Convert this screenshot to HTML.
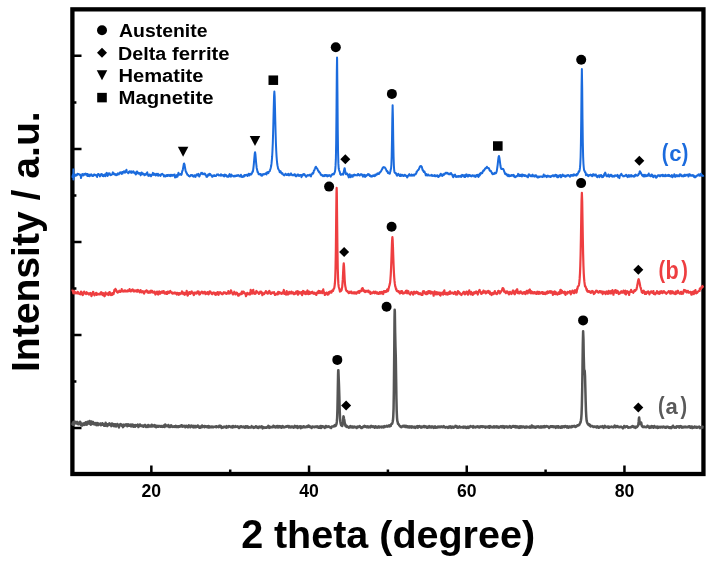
<!DOCTYPE html>
<html><head><meta charset="utf-8"><style>
html,body{margin:0;padding:0;background:#fff;width:712px;height:563px;overflow:hidden}
svg{display:block;will-change:transform}
text{font-family:"Liberation Sans", sans-serif;font-weight:bold}
</style></head><body>
<svg width="712" height="563" viewBox="0 0 712 563">
<rect width="712" height="563" fill="#fff"/>
<rect x="72.4" y="9.35" width="631.05" height="464.65" fill="none" stroke="#000" stroke-width="4.3"/>
<g fill="none" stroke-linejoin="round">
<path stroke="#555555" stroke-width="2.5" d="M73.40 421.50L73.40 425.00L73.60 423.00L72.50 424.29L72.82 422.99L73.13 422.36L73.45 423.37L73.76 423.53L74.08 422.35L74.39 421.55L74.71 421.60L75.02 423.22L75.34 421.92L75.65 422.55L75.97 422.97L76.28 423.43L76.60 422.53L76.92 423.12L77.23 421.87L77.55 422.57L77.86 422.29L78.18 424.33L78.49 423.70L78.81 423.44L79.12 424.07L79.44 423.77L79.75 424.11L80.07 421.84L80.38 422.28L80.70 422.81L81.02 425.16L81.33 424.16L81.65 423.57L81.96 424.51L82.28 425.58L82.59 423.73L82.91 423.61L83.22 424.84L83.54 424.22L83.85 424.33L84.17 423.17L84.49 424.89L84.80 424.51L85.12 423.82L85.43 424.14L85.75 422.21L86.06 424.51L86.38 424.03L86.69 424.71L87.01 424.47L87.32 423.22L87.64 421.72L87.95 423.56L88.27 422.91L88.59 423.45L88.90 422.92L89.22 422.82L89.53 420.98L89.85 423.88L90.16 423.28L90.48 424.10L90.79 424.66L91.11 423.04L91.42 421.52L91.74 422.59L92.05 422.72L92.37 423.63L92.69 423.87L93.00 422.06L93.32 423.64L93.63 422.58L93.95 424.31L94.26 424.35L94.58 424.18L94.89 424.35L95.21 423.98L95.52 423.87L95.84 423.00L96.15 424.19L96.47 425.12L96.79 424.73L97.10 423.74L97.42 423.72L97.73 423.12L98.05 425.15L98.36 424.14L98.68 424.25L98.99 424.20L99.31 424.54L99.62 424.19L99.94 424.50L100.26 423.43L100.57 423.62L100.89 425.25L101.20 423.75L101.52 423.86L101.83 424.66L102.15 424.70L102.46 423.27L102.78 423.85L103.09 424.72L103.41 424.29L103.72 424.24L104.04 425.68L104.36 424.46L104.67 425.41L104.99 424.60L105.30 425.68L105.62 422.82L105.93 423.92L106.25 424.20L106.56 425.23L106.88 425.39L107.19 426.15L107.51 424.23L107.82 425.60L108.14 424.57L108.46 424.02L108.77 424.99L109.09 424.06L109.40 423.35L109.72 424.62L110.03 423.88L110.35 424.54L110.66 425.26L110.98 425.23L111.29 426.13L111.61 424.63L111.92 423.45L112.24 423.75L112.56 423.90L112.87 423.96L113.19 425.38L113.50 424.89L113.82 424.23L114.13 426.34L114.45 425.22L114.76 424.98L115.08 424.24L115.39 425.08L115.71 425.15L116.03 426.45L116.34 425.76L116.66 425.60L116.97 425.48L117.29 424.07L117.60 424.81L117.92 424.60L118.23 425.44L118.55 424.90L118.86 427.43L119.18 426.17L119.49 425.05L119.81 424.49L120.13 425.08L120.44 424.84L120.76 424.06L121.07 424.85L121.39 424.61L121.70 425.66L122.02 424.91L122.33 425.47L122.65 426.24L122.96 427.15L123.28 424.66L123.59 424.88L123.91 424.81L124.23 426.04L124.54 424.95L124.86 425.25L125.17 425.42L125.49 424.67L125.80 424.83L126.12 425.29L126.43 424.38L126.75 424.95L127.06 425.77L127.38 426.28L127.69 425.68L128.01 424.29L128.33 424.75L128.64 425.72L128.96 425.74L129.27 425.50L129.59 424.88L129.90 425.72L130.22 424.85L130.53 424.59L130.85 424.94L131.16 426.46L131.48 425.47L131.80 425.83L132.11 424.58L132.43 425.58L132.74 424.74L133.06 425.13L133.37 426.84L133.69 425.85L134.00 425.15L134.32 425.60L134.63 426.06L134.95 426.80L135.26 425.81L135.58 425.09L135.90 426.03L136.21 425.79L136.53 425.43L136.84 425.74L137.16 425.24L137.47 425.64L137.79 424.58L138.10 426.02L138.42 427.01L138.73 426.47L139.05 425.72L139.36 425.22L139.68 425.75L140.00 424.41L140.31 425.16L140.63 425.76L140.94 426.00L141.26 425.38L141.57 425.88L141.89 425.77L142.20 426.24L142.52 426.33L142.83 425.65L143.15 426.22L143.46 426.65L143.78 425.42L144.10 425.68L144.41 426.04L144.73 425.05L145.04 425.77L145.36 425.06L145.67 426.34L145.99 427.04L146.30 426.90L146.62 425.92L146.93 426.76L147.25 426.70L147.57 426.38L147.88 426.89L148.20 424.97L148.51 426.33L148.83 425.74L149.14 426.58L149.46 426.01L149.77 425.65L150.09 426.29L150.40 426.47L150.72 426.02L151.03 426.20L151.35 425.64L151.67 424.75L151.98 426.41L152.30 426.16L152.61 425.72L152.93 425.54L153.24 426.24L153.56 425.61L153.87 425.65L154.19 425.87L154.50 426.55L154.82 425.10L155.13 426.74L155.45 426.01L155.77 426.01L156.08 427.19L156.40 426.40L156.71 425.69L157.03 426.09L157.34 426.67L157.66 426.71L157.97 425.97L158.29 426.51L158.60 426.78L158.92 425.93L159.23 426.30L159.55 425.96L159.87 425.91L160.18 426.14L160.50 426.64L160.81 426.47L161.13 426.01L161.44 425.93L161.76 426.81L162.07 426.44L162.39 426.87L162.70 426.76L163.02 426.19L163.34 426.77L163.65 425.45L163.97 426.51L164.28 426.19L164.60 426.99L164.91 426.62L165.23 424.52L165.54 424.97L165.86 425.73L166.17 425.75L166.49 425.98L166.80 425.83L167.12 426.33L167.44 426.35L167.75 425.92L168.07 426.38L168.38 424.93L168.70 426.49L169.01 425.83L169.33 427.10L169.64 426.81L169.96 426.78L170.27 426.97L170.59 425.93L170.90 425.51L171.22 425.23L171.54 426.01L171.85 426.29L172.17 426.66L172.48 426.22L172.80 426.91L173.11 426.46L173.43 426.45L173.74 426.82L174.06 426.96L174.37 426.20L174.69 426.17L175.00 426.21L175.32 426.32L175.64 425.86L175.95 426.90L176.27 426.35L176.58 426.89L176.90 426.26L177.21 426.80L177.53 426.79L177.84 426.20L178.16 427.15L178.47 426.17L178.79 426.96L179.11 426.71L179.42 426.08L179.74 426.23L180.05 426.64L180.37 426.48L180.68 426.34L181.00 426.04L181.31 425.19L181.63 426.11L181.94 425.36L182.26 426.75L182.57 426.09L182.89 425.95L183.21 426.04L183.52 426.52L183.84 425.97L184.15 426.08L184.47 426.29L184.78 425.75L185.10 426.14L185.41 427.31L185.73 426.09L186.04 426.86L186.36 425.85L186.67 426.53L186.99 426.16L187.31 426.35L187.62 426.70L187.94 427.31L188.25 426.36L188.57 426.09L188.88 425.35L189.20 426.17L189.51 425.92L189.83 426.52L190.14 426.32L190.46 427.33L190.77 425.85L191.09 426.29L191.41 426.50L191.72 425.63L192.04 425.82L192.35 426.44L192.67 426.32L192.98 426.67L193.30 427.38L193.61 426.47L193.93 425.79L194.24 426.22L194.56 426.75L194.88 427.17L195.19 426.16L195.51 426.02L195.82 426.93L196.14 427.12L196.45 426.79L196.77 426.38L197.08 426.11L197.40 426.41L197.71 425.53L198.03 426.63L198.34 425.82L198.66 426.66L198.98 427.62L199.29 427.66L199.61 426.68L199.92 427.58L200.24 427.73L200.55 426.72L200.87 426.45L201.18 426.63L201.50 425.96L201.81 427.27L202.13 425.57L202.44 426.15L202.76 426.53L203.08 426.57L203.39 426.64L203.71 426.59L204.02 426.28L204.34 427.12L204.65 425.97L204.97 427.14L205.28 426.64L205.60 426.81L205.91 426.65L206.23 426.23L206.54 426.41L206.86 427.08L207.18 426.80L207.49 426.28L207.81 427.34L208.12 427.48L208.44 425.92L208.75 426.68L209.07 427.53L209.38 426.73L209.70 426.42L210.01 426.55L210.33 426.72L210.65 427.16L210.96 426.85L211.28 427.23L211.59 426.59L211.91 426.71L212.22 426.53L212.54 427.14L212.85 426.68L213.17 426.87L213.48 427.26L213.80 426.90L214.11 426.88L214.43 426.74L214.75 426.66L215.06 426.63L215.38 426.61L215.69 427.02L216.01 426.24L216.32 427.21L216.64 426.74L216.95 426.50L217.27 426.67L217.58 426.55L217.90 426.85L218.21 426.46L218.53 427.22L218.85 426.45L219.16 425.87L219.48 426.37L219.79 425.73L220.11 426.40L220.42 426.91L220.74 426.82L221.05 426.09L221.37 426.61L221.68 427.91L222.00 427.61L222.31 427.22L222.63 427.38L222.95 427.67L223.26 427.17L223.58 426.67L223.89 426.72L224.21 426.98L224.52 426.66L224.84 426.64L225.15 427.20L225.47 426.93L225.78 427.40L226.10 427.15L226.42 427.71L226.73 426.14L227.05 426.57L227.36 426.70L227.68 427.07L227.99 427.27L228.31 426.62L228.62 426.45L228.94 426.02L229.25 426.17L229.57 426.62L229.88 426.70L230.20 426.57L230.52 427.10L230.83 427.17L231.15 427.27L231.46 426.76L231.78 426.90L232.09 426.31L232.41 426.58L232.72 427.55L233.04 426.00L233.35 426.62L233.67 426.97L233.98 426.87L234.30 426.84L234.62 427.01L234.93 426.93L235.25 426.79L235.56 426.14L235.88 426.85L236.19 426.62L236.51 426.63L236.82 426.83L237.14 426.88L237.45 426.96L237.77 426.42L238.08 426.95L238.40 427.33L238.72 427.59L239.03 427.97L239.35 427.18L239.66 426.97L239.98 427.15L240.29 426.39L240.61 427.09L240.92 426.89L241.24 426.92L241.55 426.35L241.87 426.64L242.19 426.93L242.50 427.24L242.82 427.23L243.13 426.81L243.45 426.76L243.76 426.51L244.08 427.11L244.39 426.98L244.71 427.44L245.02 427.77L245.34 426.99L245.65 426.32L245.97 426.58L246.29 426.37L246.60 426.49L246.92 427.47L247.23 427.07L247.55 426.42L247.86 427.38L248.18 427.74L248.49 427.25L248.81 427.07L249.12 427.15L249.44 427.33L249.75 427.43L250.07 427.61L250.39 427.59L250.70 427.47L251.02 427.44L251.33 427.06L251.65 426.13L251.96 426.58L252.28 426.66L252.59 426.65L252.91 427.40L253.22 427.17L253.54 426.96L253.85 427.87L254.17 427.57L254.49 427.28L254.80 427.43L255.12 427.36L255.43 427.16L255.75 426.16L256.06 426.92L256.38 427.03L256.69 426.85L257.01 427.33L257.32 427.71L257.64 427.08L257.96 426.83L258.27 428.05L258.59 427.12L258.90 426.83L259.22 427.24L259.53 427.16L259.85 426.58L260.16 427.36L260.48 427.09L260.79 427.14L261.11 427.26L261.42 427.18L261.74 426.34L262.06 426.94L262.37 427.01L262.69 428.36L263.00 426.97L263.32 427.73L263.63 427.14L263.95 427.15L264.26 427.52L264.58 427.62L264.89 427.88L265.21 427.63L265.52 427.38L265.84 427.36L266.16 427.72L266.47 427.70L266.79 427.73L267.10 427.07L267.42 427.02L267.73 427.14L268.05 426.56L268.36 425.87L268.68 426.26L268.99 426.44L269.31 427.87L269.62 426.74L269.94 427.33L270.26 426.89L270.57 427.43L270.89 427.26L271.20 426.95L271.52 427.01L271.83 427.21L272.15 427.34L272.46 426.80L272.78 426.71L273.09 427.07L273.41 425.76L273.73 426.45L274.04 425.96L274.36 426.63L274.67 427.14L274.99 427.06L275.30 427.35L275.62 426.43L275.93 427.43L276.25 426.75L276.56 427.18L276.88 426.98L277.19 425.96L277.51 426.69L277.83 427.09L278.14 427.50L278.46 426.92L278.77 426.81L279.09 426.10L279.40 427.12L279.72 427.19L280.03 426.66L280.35 426.71L280.66 426.32L280.98 427.19L281.29 427.79L281.61 426.95L281.93 427.08L282.24 426.74L282.56 426.08L282.87 427.20L283.19 426.45L283.50 427.08L283.82 427.20L284.13 427.37L284.45 427.13L284.76 427.17L285.08 426.78L285.39 426.63L285.71 427.00L286.03 426.55L286.34 426.17L286.66 426.22L286.97 426.55L287.29 426.07L287.60 426.23L287.92 426.08L288.23 426.73L288.55 426.83L288.86 427.45L289.18 426.13L289.50 426.56L289.81 427.28L290.13 426.97L290.44 426.82L290.76 427.49L291.07 426.61L291.39 426.42L291.70 426.48L292.02 427.23L292.33 427.22L292.65 426.58L292.96 426.73L293.28 427.49L293.60 427.69L293.91 427.40L294.23 427.51L294.54 427.12L294.86 425.86L295.17 426.66L295.49 427.19L295.80 427.06L296.12 426.36L296.43 426.96L296.75 427.24L297.06 427.57L297.38 426.14L297.70 427.98L298.01 426.40L298.33 427.03L298.64 426.98L298.96 427.00L299.27 426.79L299.59 426.40L299.90 427.21L300.22 426.83L300.53 426.27L300.85 428.21L301.16 427.32L301.48 427.65L301.80 426.63L302.11 427.55L302.43 427.61L302.74 427.56L303.06 426.92L303.37 426.43L303.69 426.98L304.00 426.37L304.32 426.71L304.63 427.27L304.95 426.73L305.27 426.91L305.58 426.70L305.90 427.23L306.21 426.76L306.53 426.41L306.84 427.05L307.16 426.46L307.47 426.49L307.79 426.82L308.10 425.87L308.42 426.10L308.73 425.56L309.05 425.97L309.37 426.84L309.68 426.23L310.00 426.89L310.31 426.67L310.63 426.77L310.94 426.94L311.26 427.82L311.57 428.02L311.89 427.17L312.20 426.59L312.52 426.99L312.83 426.47L313.15 426.92L313.47 426.75L313.78 426.77L314.10 427.12L314.41 426.89L314.73 427.18L315.04 426.58L315.36 426.96L315.67 426.48L315.99 426.95L316.30 426.63L316.62 427.02L316.93 427.14L317.25 426.42L317.57 426.64L317.88 426.60L318.20 427.24L318.51 427.62L318.83 427.37L319.14 427.00L319.46 427.77L319.77 426.62L320.09 427.72L320.40 426.88L320.72 426.04L321.04 428.05L321.35 427.61L321.67 426.49L321.98 426.80L322.30 426.52L322.61 426.81L322.93 426.37L323.24 426.84L323.56 427.14L323.87 426.92L324.19 427.15L324.50 426.92L324.82 427.96L325.14 427.00L325.45 427.11L325.77 426.03L326.08 426.02L326.40 427.11L326.71 426.37L327.03 427.04L327.34 426.83L327.66 426.47L327.97 426.73L328.29 426.52L328.60 426.38L328.92 426.70L329.24 426.98L329.55 426.83L329.87 427.02L330.18 427.42L330.50 427.23L330.81 427.61L331.13 427.98L331.44 427.08L331.76 426.53L332.07 426.58L332.39 426.42L332.70 426.49L333.02 426.37L333.34 426.50L333.65 426.38L333.97 426.41L334.28 425.59L334.60 425.24L334.91 425.02L335.23 426.10L335.54 425.70L335.86 425.71L336.17 424.79L336.49 424.08L336.81 421.92L337.12 418.18L337.44 409.26L337.75 393.04L338.07 375.08L338.22 370.25L338.38 370.27L338.70 378.33L339.01 386.07L339.33 396.09L339.64 408.18L339.96 416.65L340.27 421.14L340.59 423.27L340.91 424.47L341.22 425.20L341.54 425.53L341.85 424.96L342.17 425.99L342.48 425.18L342.80 423.41L343.11 419.85L343.43 416.56L343.51 416.32L343.74 417.15L344.06 418.96L344.37 420.35L344.69 422.74L345.01 423.45L345.32 425.69L345.64 426.06L345.95 426.14L346.27 426.68L346.58 425.67L346.90 426.09L347.21 426.98L347.53 426.75L347.84 427.06L348.16 427.22L348.47 426.97L348.79 427.68L349.11 426.76L349.42 427.44L349.74 426.64L350.05 427.36L350.37 427.05L350.68 426.08L351.00 427.02L351.31 426.56L351.63 426.74L351.94 427.52L352.26 426.52L352.58 426.55L352.89 427.47L353.21 426.91L353.52 427.42L353.84 426.96L354.15 426.50L354.47 426.82L354.78 427.35L355.10 427.27L355.41 426.94L355.73 427.11L356.04 427.21L356.36 427.19L356.68 428.05L356.99 427.21L357.31 426.67L357.62 426.86L357.94 427.26L358.25 427.16L358.57 426.81L358.88 426.55L359.20 426.76L359.51 426.10L359.83 426.24L360.14 427.04L360.46 426.79L360.78 427.36L361.09 427.92L361.41 427.59L361.72 427.23L362.04 427.92L362.35 427.32L362.67 426.88L362.98 427.25L363.30 427.08L363.61 426.55L363.93 426.86L364.24 426.69L364.56 425.92L364.88 426.52L365.19 426.59L365.51 426.64L365.82 426.29L366.14 426.89L366.45 427.11L366.77 427.26L367.08 426.65L367.40 427.20L367.71 426.35L368.03 426.75L368.35 427.35L368.66 426.60L368.98 426.67L369.29 427.28L369.61 426.72L369.92 426.79L370.24 427.02L370.55 427.37L370.87 425.94L371.18 426.29L371.50 426.04L371.81 426.15L372.13 426.38L372.45 426.53L372.76 426.90L373.08 426.38L373.39 426.70L373.71 426.99L374.02 426.74L374.34 427.25L374.65 427.65L374.97 426.97L375.28 426.43L375.60 426.79L375.91 426.60L376.23 427.19L376.55 427.52L376.86 426.98L377.18 427.31L377.49 427.61L377.81 426.80L378.12 426.86L378.44 426.37L378.75 426.41L379.07 426.49L379.38 427.57L379.70 426.69L380.01 426.73L380.33 426.69L380.65 426.81L380.96 427.09L381.28 426.81L381.59 427.38L381.91 426.59L382.22 427.19L382.54 426.90L382.85 427.17L383.17 426.57L383.48 427.20L383.80 427.38L384.12 427.06L384.43 426.11L384.75 426.97L385.06 426.49L385.38 426.46L385.69 426.51L386.01 426.41L386.32 426.53L386.64 425.80L386.95 426.04L387.27 426.58L387.58 426.63L387.90 426.23L388.22 425.95L388.53 425.64L388.85 425.86L389.16 426.23L389.48 425.36L389.79 426.39L390.11 426.24L390.42 425.86L390.74 425.85L391.05 424.64L391.37 424.04L391.68 423.95L392.00 423.82L392.32 423.21L392.63 422.03L392.95 420.34L393.26 416.48L393.58 408.35L393.89 389.26L394.21 355.72L394.52 318.75L394.68 309.85L394.84 311.94L395.15 332.62L395.47 346.70L395.78 356.43L396.10 377.06L396.42 398.17L396.73 411.64L397.05 418.05L397.36 421.17L397.68 421.99L397.99 423.78L398.31 423.86L398.62 424.17L398.94 424.81L399.25 425.45L399.57 425.58L399.89 426.14L400.20 426.11L400.52 426.76L400.83 427.02L401.15 426.59L401.46 427.16L401.78 426.72L402.09 426.55L402.41 426.04L402.72 426.12L403.04 426.55L403.35 425.83L403.67 426.58L403.99 426.54L404.30 426.57L404.62 425.72L404.93 426.59L405.25 426.97L405.56 426.55L405.88 426.83L406.19 425.88L406.51 426.96L406.82 426.53L407.14 427.14L407.45 426.20L407.77 427.15L408.09 426.83L408.40 427.23L408.72 426.53L409.03 426.59L409.35 427.59L409.66 426.49L409.98 426.57L410.29 426.76L410.61 426.51L410.92 427.36L411.24 427.59L411.55 426.67L411.87 426.26L412.19 427.31L412.50 427.35L412.82 427.31L413.13 427.50L413.45 426.90L413.76 427.30L414.08 427.00L414.39 426.85L414.71 427.61L415.02 426.86L415.34 427.90L415.66 427.03L415.97 426.71L416.29 427.06L416.60 427.25L416.92 426.58L417.23 426.17L417.55 426.98L417.86 427.57L418.18 426.64L418.49 426.29L418.81 426.70L419.12 426.44L419.44 426.04L419.76 426.36L420.07 426.46L420.39 427.09L420.70 427.26L421.02 427.63L421.33 427.46L421.65 426.60L421.96 427.24L422.28 427.33L422.59 427.08L422.91 427.13L423.22 426.38L423.54 426.07L423.86 426.91L424.17 426.31L424.49 426.05L424.80 427.19L425.12 426.51L425.43 426.64L425.75 426.37L426.06 426.54L426.38 426.74L426.69 427.21L427.01 427.65L427.32 426.84L427.64 427.75L427.96 426.82L428.27 426.65L428.59 427.19L428.90 426.80L429.22 426.16L429.53 427.37L429.85 426.33L430.16 426.69L430.48 426.79L430.79 427.36L431.11 426.79L431.43 427.32L431.74 426.66L432.06 427.33L432.37 426.54L432.69 426.58L433.00 427.31L433.32 426.86L433.63 426.92L433.95 427.84L434.26 427.01L434.58 426.45L434.89 426.89L435.21 426.42L435.53 427.51L435.84 427.78L436.16 427.11L436.47 427.09L436.79 427.38L437.10 427.32L437.42 426.96L437.73 427.53L438.05 426.41L438.36 426.84L438.68 426.68L438.99 426.84L439.31 427.15L439.63 426.69L439.94 427.29L440.26 426.94L440.57 426.70L440.89 426.41L441.20 426.45L441.52 426.99L441.83 426.51L442.15 426.89L442.46 427.27L442.78 427.16L443.09 427.25L443.41 426.46L443.73 426.16L444.04 426.92L444.36 426.64L444.67 427.18L444.99 427.00L445.30 427.68L445.62 427.44L445.93 427.29L446.25 427.11L446.56 427.11L446.88 427.10L447.20 427.14L447.51 427.50L447.83 427.03L448.14 427.94L448.46 426.98L448.77 427.09L449.09 426.41L449.40 426.45L449.72 427.39L450.03 426.63L450.35 426.37L450.66 426.68L450.98 426.93L451.30 427.86L451.61 427.16L451.93 427.46L452.24 426.66L452.56 427.08L452.87 427.12L453.19 427.68L453.50 426.91L453.82 427.54L454.13 427.34L454.45 426.76L454.76 427.05L455.08 426.81L455.40 425.90L455.71 426.83L456.03 426.83L456.34 426.50L456.66 426.20L456.97 427.42L457.29 427.16L457.60 427.62L457.92 427.73L458.23 426.98L458.55 427.43L458.86 426.80L459.18 426.62L459.50 426.36L459.81 426.73L460.13 427.48L460.44 427.46L460.76 427.28L461.07 427.16L461.39 427.30L461.70 426.93L462.02 427.15L462.33 427.39L462.65 427.02L462.97 427.01L463.28 426.64L463.60 427.61L463.91 427.38L464.23 427.06L464.54 426.79L464.86 427.53L465.17 426.75L465.49 426.99L465.80 427.52L466.12 427.90L466.43 428.02L466.75 427.21L467.07 427.71L467.38 426.80L467.70 427.56L468.01 427.12L468.33 427.92L468.64 426.90L468.96 426.77L469.27 427.21L469.59 427.42L469.90 426.63L470.22 426.72L470.53 426.15L470.85 426.52L471.17 426.56L471.48 426.61L471.80 426.62L472.11 426.87L472.43 426.88L472.74 427.49L473.06 427.62L473.37 426.12L473.69 426.55L474.00 426.69L474.32 427.27L474.63 426.98L474.95 427.20L475.27 426.79L475.58 427.35L475.90 426.99L476.21 426.75L476.53 426.80L476.84 426.63L477.16 426.21L477.47 427.05L477.79 426.94L478.10 426.79L478.42 427.21L478.74 427.34L479.05 426.53L479.37 426.69L479.68 427.49L480.00 427.39L480.31 426.55L480.63 426.36L480.94 426.53L481.26 426.55L481.57 426.21L481.89 426.85L482.20 426.43L482.52 426.38L482.84 427.08L483.15 426.42L483.47 426.62L483.78 426.84L484.10 426.88L484.41 426.59L484.73 426.86L485.04 426.67L485.36 427.71L485.67 427.41L485.99 426.86L486.30 427.02L486.62 427.02L486.94 426.69L487.25 427.34L487.57 427.33L487.88 426.80L488.20 426.89L488.51 426.39L488.83 426.88L489.14 426.81L489.46 427.71L489.77 426.72L490.09 426.11L490.40 426.82L490.72 427.30L491.04 426.66L491.35 426.66L491.67 426.70L491.98 427.16L492.30 427.19L492.61 427.14L492.93 427.51L493.24 426.79L493.56 426.56L493.87 426.36L494.19 426.70L494.51 427.35L494.82 426.46L495.14 426.96L495.45 427.18L495.77 426.73L496.08 426.90L496.40 426.35L496.71 427.37L497.03 427.44L497.34 427.26L497.66 426.46L497.97 426.64L498.29 427.30L498.61 427.65L498.92 427.21L499.24 427.63L499.55 426.89L499.87 426.97L500.18 426.98L500.50 427.02L500.81 426.20L501.13 426.99L501.44 427.24L501.76 426.44L502.07 426.46L502.39 427.10L502.71 426.75L503.02 426.14L503.34 427.40L503.65 427.25L503.97 427.12L504.28 427.87L504.60 426.95L504.91 426.43L505.23 426.83L505.54 426.51L505.86 426.70L506.17 426.94L506.49 426.43L506.81 426.29L507.12 427.31L507.44 427.26L507.75 427.49L508.07 427.21L508.38 427.01L508.70 427.18L509.01 426.57L509.33 427.18L509.64 426.08L509.96 426.51L510.28 426.29L510.59 426.85L510.91 427.28L511.22 427.74L511.54 427.09L511.85 427.06L512.17 426.66L512.48 426.24L512.80 426.13L513.11 426.63L513.43 426.02L513.74 426.73L514.06 426.73L514.38 426.52L514.69 426.35L515.01 426.17L515.32 427.32L515.64 426.31L515.95 427.52L516.27 427.32L516.58 426.85L516.90 426.44L517.21 427.12L517.53 427.37L517.84 426.41L518.16 426.65L518.48 427.28L518.79 427.16L519.11 427.90L519.42 426.82L519.74 427.09L520.05 426.30L520.37 427.64L520.68 426.73L521.00 426.32L521.31 426.93L521.63 426.78L521.94 427.38L522.26 426.54L522.58 426.63L522.89 426.82L523.21 427.12L523.52 426.46L523.84 426.79L524.15 426.99L524.47 427.07L524.78 427.59L525.10 427.35L525.41 426.78L525.73 427.33L526.05 426.44L526.36 427.43L526.68 427.41L526.99 427.00L527.31 426.73L527.62 426.89L527.94 427.17L528.25 427.28L528.57 427.14L528.88 427.38L529.20 426.81L529.51 427.08L529.83 426.62L530.15 427.66L530.46 427.63L530.78 427.12L531.09 427.39L531.41 426.91L531.72 425.59L532.04 426.57L532.35 425.97L532.67 426.94L532.98 427.51L533.30 426.48L533.61 426.66L533.93 426.51L534.25 426.69L534.56 427.01L534.88 427.46L535.19 426.85L535.51 427.79L535.82 426.89L536.14 427.33L536.45 427.47L536.77 427.12L537.08 426.34L537.40 426.38L537.71 426.42L538.03 426.53L538.35 427.07L538.66 426.29L538.98 427.04L539.29 427.27L539.61 427.43L539.92 427.58L540.24 427.52L540.55 426.71L540.87 426.41L541.18 426.65L541.50 427.44L541.82 426.45L542.13 427.43L542.45 426.71L542.76 426.54L543.08 426.51L543.39 426.40L543.71 427.16L544.02 426.83L544.34 427.03L544.65 426.11L544.97 427.23L545.28 426.90L545.60 426.79L545.92 426.50L546.23 426.34L546.55 426.09L546.86 426.36L547.18 426.61L547.49 426.60L547.81 426.40L548.12 427.05L548.44 427.07L548.75 427.39L549.07 427.95L549.38 427.44L549.70 426.98L550.02 426.38L550.33 426.33L550.65 426.18L550.96 427.00L551.28 426.41L551.59 426.61L551.91 426.25L552.22 426.40L552.54 427.03L552.85 426.43L553.17 426.71L553.48 426.58L553.80 427.22L554.12 426.57L554.43 426.53L554.75 426.43L555.06 426.41L555.38 427.09L555.69 427.84L556.01 426.56L556.32 427.15L556.64 426.79L556.95 426.20L557.27 426.60L557.59 426.72L557.90 426.67L558.22 427.61L558.53 426.23L558.85 427.05L559.16 427.17L559.48 426.98L559.79 427.37L560.11 427.69L560.42 427.49L560.74 427.64L561.05 427.53L561.37 426.35L561.69 427.40L562.00 427.62L562.32 427.09L562.63 427.03L562.95 426.23L563.26 426.76L563.58 426.58L563.89 426.60L564.21 427.10L564.52 426.41L564.84 426.63L565.15 425.98L565.47 426.59L565.79 426.74L566.10 426.52L566.42 426.58L566.73 427.40L567.05 426.20L567.36 426.15L567.68 426.39L567.99 427.27L568.31 427.75L568.62 427.04L568.94 426.59L569.25 426.61L569.57 427.17L569.89 426.49L570.20 427.35L570.52 427.29L570.83 426.75L571.15 426.90L571.46 426.87L571.78 427.08L572.09 426.09L572.41 426.84L572.72 426.25L573.04 426.07L573.36 426.42L573.67 426.36L573.99 426.13L574.30 425.86L574.62 426.02L574.93 426.78L575.25 426.99L575.56 426.56L575.88 426.77L576.19 426.10L576.51 426.16L576.82 426.18L577.14 425.50L577.46 425.29L577.77 425.41L578.09 425.26L578.40 424.98L578.72 425.37L579.03 424.78L579.35 424.73L579.66 423.91L579.98 423.39L580.29 422.92L580.61 421.99L580.92 420.55L581.24 418.29L581.56 413.86L581.87 405.03L582.19 389.79L582.50 367.59L582.82 343.86L583.13 331.25L583.13 331.28L583.45 339.11L583.76 356.15L584.08 368.31L584.39 371.44L584.71 370.74L585.02 375.92L585.34 387.99L585.66 400.79L585.97 410.68L586.29 416.68L586.60 420.36L586.92 421.90L587.23 422.80L587.55 423.56L587.86 423.89L588.18 424.51L588.49 424.88L588.81 425.15L589.13 425.22L589.44 424.35L589.76 425.69L590.07 425.12L590.39 426.00L590.70 426.45L591.02 426.30L591.33 426.02L591.65 426.02L591.96 425.96L592.28 426.01L592.59 426.18L592.91 426.24L593.23 427.00L593.54 426.60L593.86 426.96L594.17 426.53L594.49 426.64L594.80 426.55L595.12 426.76L595.43 426.87L595.75 426.66L596.06 426.45L596.38 426.52L596.69 427.50L597.01 426.60L597.33 426.39L597.64 426.79L597.96 426.88L598.27 426.91L598.59 426.80L598.90 427.76L599.22 427.06L599.53 427.09L599.85 426.85L600.16 426.42L600.48 426.46L600.79 427.09L601.11 427.10L601.43 426.89L601.74 426.46L602.06 426.27L602.37 426.56L602.69 426.20L603.00 427.08L603.32 427.22L603.63 427.91L603.95 427.31L604.26 426.88L604.58 426.76L604.90 425.83L605.21 426.83L605.53 426.95L605.84 427.34L606.16 427.19L606.47 427.01L606.79 426.71L607.10 426.69L607.42 427.18L607.73 426.50L608.05 426.93L608.36 426.66L608.68 427.80L609.00 427.75L609.31 427.54L609.63 426.83L609.94 427.30L610.26 427.08L610.57 427.12L610.89 426.94L611.20 427.01L611.52 426.51L611.83 426.77L612.15 426.81L612.46 426.87L612.78 427.19L613.10 426.97L613.41 427.30L613.73 426.81L614.04 426.77L614.36 426.28L614.67 425.65L614.99 426.80L615.30 426.40L615.62 427.31L615.93 427.03L616.25 426.10L616.56 426.17L616.88 426.34L617.20 426.25L617.51 426.14L617.83 426.89L618.14 426.61L618.46 426.90L618.77 426.81L619.09 427.26L619.40 427.08L619.72 427.17L620.03 427.22L620.35 426.87L620.67 426.75L620.98 426.60L621.30 427.11L621.61 427.32L621.93 427.26L622.24 427.22L622.56 427.67L622.87 428.35L623.19 427.34L623.50 427.40L623.82 427.24L624.13 426.02L624.45 426.96L624.77 426.66L625.08 427.38L625.40 426.70L625.71 426.41L626.03 426.50L626.34 426.70L626.66 426.50L626.97 426.74L627.29 426.39L627.60 426.90L627.92 427.37L628.23 427.79L628.55 427.34L628.87 427.18L629.18 427.47L629.50 427.39L629.81 427.58L630.13 427.47L630.44 427.13L630.76 427.35L631.07 427.14L631.39 427.01L631.70 426.79L632.02 426.51L632.33 426.11L632.65 426.69L632.97 426.29L633.28 427.10L633.60 427.16L633.91 426.54L634.23 427.36L634.54 427.40L634.86 427.16L635.17 427.75L635.49 427.86L635.80 426.69L636.12 427.38L636.44 427.07L636.75 426.94L637.07 426.98L637.38 426.24L637.70 426.16L638.01 425.71L638.33 424.56L638.64 421.90L638.96 418.20L639.12 417.57L639.27 418.41L639.59 421.53L639.90 424.09L640.22 424.03L640.54 423.82L640.85 422.52L641.17 422.48L641.48 423.92L641.80 425.88L642.11 426.26L642.43 426.61L642.74 426.77L643.06 427.11L643.37 426.54L643.69 426.93L644.00 426.52L644.32 426.57L644.64 426.67L644.95 426.99L645.27 427.15L645.58 427.11L645.90 426.89L646.21 427.04L646.53 426.75L646.84 427.13L647.16 426.54L647.47 425.68L647.79 426.75L648.10 426.51L648.42 426.26L648.74 426.80L649.05 426.68L649.37 427.86L649.68 427.42L650.00 426.64L650.31 427.33L650.63 426.95L650.94 427.67L651.26 426.52L651.57 426.00L651.89 426.88L652.21 426.79L652.52 426.83L652.84 426.30L653.15 427.28L653.47 427.80L653.78 426.18L654.10 426.92L654.41 425.95L654.73 427.24L655.04 426.83L655.36 426.88L655.67 427.40L655.99 427.27L656.31 426.94L656.62 427.41L656.94 427.00L657.25 426.56L657.57 428.01L657.88 427.27L658.20 427.29L658.51 427.56L658.83 426.84L659.14 426.85L659.46 427.07L659.77 426.98L660.09 427.11L660.41 427.48L660.72 426.91L661.04 427.25L661.35 427.34L661.67 426.80L661.98 427.31L662.30 426.76L662.61 427.34L662.93 426.99L663.24 426.88L663.56 426.45L663.87 427.02L664.19 426.80L664.51 427.42L664.82 427.22L665.14 427.08L665.45 427.80L665.77 427.84L666.08 427.16L666.40 427.57L666.71 426.84L667.03 426.85L667.34 427.01L667.66 426.71L667.98 426.85L668.29 426.97L668.61 427.59L668.92 427.70L669.24 427.19L669.55 427.96L669.87 427.24L670.18 427.26L670.50 427.29L670.81 427.24L671.13 428.14L671.44 427.52L671.76 426.77L672.08 427.41L672.39 426.56L672.71 426.67L673.02 425.80L673.34 427.29L673.65 427.22L673.97 427.22L674.28 427.28L674.60 427.63L674.91 427.12L675.23 427.56L675.54 426.99L675.86 427.16L676.18 427.68L676.49 427.19L676.81 426.33L677.12 426.67L677.44 426.53L677.75 426.37L678.07 426.87L678.38 426.70L678.70 426.42L679.01 426.70L679.33 427.62L679.64 426.36L679.96 426.87L680.28 426.92L680.59 426.85L680.91 426.10L681.22 426.68L681.54 427.10L681.85 427.59L682.17 427.03L682.48 426.79L682.80 427.50L683.11 427.53L683.43 427.27L683.75 426.93L684.06 427.19L684.38 426.99L684.69 427.15L685.01 426.56L685.32 427.19L685.64 427.25L685.95 426.79L686.27 427.13L686.58 426.93L686.90 426.91L687.21 427.33L687.53 426.83L687.85 427.10L688.16 427.07L688.48 426.82L688.79 427.10L689.11 426.31L689.42 426.21L689.74 426.93L690.05 427.11L690.37 427.80L690.68 427.18L691.00 426.57L691.31 427.07L691.63 426.63L691.95 426.54L692.26 428.11L692.58 427.27L692.89 427.37L693.21 427.27L693.52 427.59L693.84 426.94L694.15 427.15L694.47 426.46L694.78 426.43L695.10 427.52L695.41 427.49L695.73 427.11L696.05 426.97L696.36 427.08L696.68 426.90L696.99 427.81L697.31 427.35L697.62 427.14L697.94 426.94L698.25 427.19L698.57 427.02L698.88 427.13L699.20 426.62L699.52 427.37L699.83 428.13L700.15 427.28L700.46 427.52L700.78 427.98L701.09 427.98L701.41 427.84L701.72 427.03L702.04 427.58L702.35 426.79L702.67 426.73L702.98 427.22L703.30 426.94"/>
<path stroke="#ee3e40" stroke-width="2.2" d="M73.40 288.50L73.40 293.50L73.60 291.50L72.50 290.33L72.82 290.88L73.13 292.14L73.45 289.86L73.76 291.54L74.08 292.10L74.39 292.51L74.71 291.72L75.02 293.27L75.34 293.29L75.65 293.18L75.97 292.74L76.28 292.79L76.60 292.96L76.92 292.76L77.23 293.43L77.55 291.82L77.86 292.37L78.18 292.05L78.49 293.42L78.81 293.67L79.12 293.63L79.44 293.58L79.75 293.89L80.07 294.03L80.38 294.31L80.70 293.38L81.02 291.68L81.33 291.93L81.65 292.40L81.96 292.46L82.28 293.60L82.59 295.05L82.91 294.98L83.22 293.96L83.54 292.74L83.85 293.01L84.17 291.52L84.49 292.41L84.80 293.34L85.12 292.99L85.43 293.31L85.75 292.80L86.06 294.06L86.38 293.41L86.69 292.22L87.01 293.69L87.32 293.74L87.64 293.37L87.95 293.20L88.27 293.72L88.59 294.26L88.90 294.62L89.22 293.91L89.53 294.14L89.85 293.14L90.16 292.99L90.48 293.37L90.79 293.19L91.11 293.97L91.42 296.10L91.74 295.09L92.05 294.44L92.37 293.30L92.69 293.18L93.00 291.90L93.32 291.99L93.63 294.28L93.95 293.71L94.26 294.00L94.58 295.34L94.89 293.98L95.21 294.21L95.52 294.31L95.84 293.54L96.15 292.80L96.47 293.66L96.79 294.96L97.10 294.35L97.42 293.66L97.73 293.70L98.05 293.73L98.36 294.24L98.68 294.33L98.99 294.04L99.31 294.17L99.62 293.58L99.94 294.45L100.26 294.13L100.57 294.09L100.89 292.30L101.20 294.05L101.52 292.27L101.83 292.76L102.15 294.50L102.46 294.40L102.78 295.18L103.09 293.71L103.41 293.17L103.72 294.74L104.04 295.26L104.36 296.26L104.67 296.12L104.99 294.98L105.30 293.26L105.62 292.51L105.93 293.95L106.25 293.69L106.56 293.86L106.88 294.32L107.19 293.72L107.51 293.56L107.82 293.96L108.14 293.16L108.46 295.04L108.77 294.26L109.09 292.69L109.40 292.09L109.72 292.17L110.03 294.39L110.35 294.44L110.66 293.21L110.98 295.11L111.29 295.02L111.61 294.04L111.92 293.53L112.24 294.89L112.56 293.12L112.87 293.05L113.19 292.92L113.50 294.09L113.82 292.90L114.13 291.18L114.45 289.78L114.76 289.85L115.08 290.37L115.39 288.87L115.71 290.38L116.03 289.79L116.34 291.03L116.66 291.83L116.97 291.97L117.29 291.75L117.60 292.63L117.92 291.81L118.23 292.21L118.55 292.16L118.86 291.02L119.18 291.64L119.49 290.73L119.81 291.39L120.13 291.88L120.44 291.94L120.76 291.19L121.07 291.38L121.39 290.77L121.70 289.19L122.02 290.64L122.33 290.92L122.65 291.18L122.96 291.53L123.28 291.29L123.59 290.85L123.91 290.57L124.23 291.46L124.54 291.47L124.86 290.46L125.17 290.29L125.49 291.34L125.80 290.67L126.12 291.44L126.43 291.27L126.75 291.24L127.06 290.80L127.38 291.45L127.69 290.40L128.01 291.25L128.33 290.62L128.64 291.20L128.96 291.13L129.27 290.46L129.59 289.11L129.90 290.90L130.22 290.71L130.53 291.27L130.85 291.45L131.16 290.86L131.48 290.52L131.80 289.88L132.11 290.62L132.43 290.05L132.74 289.48L133.06 290.32L133.37 290.01L133.69 291.39L134.00 291.05L134.32 291.44L134.63 291.50L134.95 290.43L135.26 290.59L135.58 290.75L135.90 290.39L136.21 291.38L136.53 290.44L136.84 291.10L137.16 291.72L137.47 290.09L137.79 289.81L138.10 290.75L138.42 290.17L138.73 291.14L139.05 290.99L139.36 291.68L139.68 292.43L140.00 291.31L140.31 291.44L140.63 290.19L140.94 291.44L141.26 291.83L141.57 291.90L141.89 292.40L142.20 292.18L142.52 291.44L142.83 291.10L143.15 292.19L143.46 291.80L143.78 292.90L144.10 293.69L144.41 292.93L144.73 291.59L145.04 291.29L145.36 291.66L145.67 290.78L145.99 291.40L146.30 290.52L146.62 290.38L146.93 290.57L147.25 291.53L147.57 292.55L147.88 291.65L148.20 291.62L148.51 291.60L148.83 292.79L149.14 291.41L149.46 291.67L149.77 292.35L150.09 292.67L150.40 291.70L150.72 292.38L151.03 290.53L151.35 292.11L151.67 291.91L151.98 291.08L152.30 290.92L152.61 291.95L152.93 292.67L153.24 292.53L153.56 292.18L153.87 292.57L154.19 292.72L154.50 291.65L154.82 292.94L155.13 293.55L155.45 294.55L155.77 293.11L156.08 293.47L156.40 292.15L156.71 292.73L157.03 291.53L157.34 292.83L157.66 294.02L157.97 293.66L158.29 294.50L158.60 292.24L158.92 291.54L159.23 291.46L159.55 292.68L159.87 292.40L160.18 293.65L160.50 293.30L160.81 292.41L161.13 292.12L161.44 291.57L161.76 291.76L162.07 291.44L162.39 292.66L162.70 292.76L163.02 291.48L163.34 291.76L163.65 291.05L163.97 292.27L164.28 293.19L164.60 293.54L164.91 293.38L165.23 293.29L165.54 292.32L165.86 292.32L166.17 293.80L166.49 292.11L166.80 293.13L167.12 293.93L167.44 292.77L167.75 291.57L168.07 291.60L168.38 291.87L168.70 292.83L169.01 293.01L169.33 292.46L169.64 292.28L169.96 291.36L170.27 290.96L170.59 291.48L170.90 292.22L171.22 292.10L171.54 292.91L171.85 293.25L172.17 293.50L172.48 292.52L172.80 293.65L173.11 293.00L173.43 293.43L173.74 292.77L174.06 292.84L174.37 292.81L174.69 293.25L175.00 292.42L175.32 293.10L175.64 293.07L175.95 293.72L176.27 292.96L176.58 293.65L176.90 294.52L177.21 292.96L177.53 293.71L177.84 292.91L178.16 293.18L178.47 294.03L178.79 294.80L179.11 294.01L179.42 293.24L179.74 294.30L180.05 293.33L180.37 293.51L180.68 293.60L181.00 293.73L181.31 293.35L181.63 292.82L181.94 291.36L182.26 292.20L182.57 292.04L182.89 292.53L183.21 294.09L183.52 293.82L183.84 293.63L184.15 292.74L184.47 293.92L184.78 294.75L185.10 293.71L185.41 294.34L185.73 293.20L186.04 292.84L186.36 292.16L186.67 290.87L186.99 291.89L187.31 292.54L187.62 295.62L187.94 295.09L188.25 294.18L188.57 293.76L188.88 292.81L189.20 292.09L189.51 293.01L189.83 293.69L190.14 293.94L190.46 292.74L190.77 292.44L191.09 291.97L191.41 291.75L191.72 291.33L192.04 293.20L192.35 292.49L192.67 292.36L192.98 292.79L193.30 293.52L193.61 294.81L193.93 295.09L194.24 293.26L194.56 292.60L194.88 292.97L195.19 292.71L195.51 293.23L195.82 292.71L196.14 293.69L196.45 293.57L196.77 293.35L197.08 292.74L197.40 291.50L197.71 291.45L198.03 292.55L198.34 293.17L198.66 291.51L198.98 293.27L199.29 294.55L199.61 294.51L199.92 293.48L200.24 293.98L200.55 293.03L200.87 292.30L201.18 292.75L201.50 292.67L201.81 291.61L202.13 291.85L202.44 292.12L202.76 292.14L203.08 293.44L203.39 293.44L203.71 292.50L204.02 293.02L204.34 291.82L204.65 291.78L204.97 291.96L205.28 292.98L205.60 294.16L205.91 293.70L206.23 293.43L206.54 293.64L206.86 292.85L207.18 292.41L207.49 292.08L207.81 293.04L208.12 293.91L208.44 294.35L208.75 294.25L209.07 293.26L209.38 292.00L209.70 291.28L210.01 291.33L210.33 291.58L210.65 291.94L210.96 292.75L211.28 292.97L211.59 293.75L211.91 293.24L212.22 294.29L212.54 292.99L212.85 292.76L213.17 292.52L213.48 293.12L213.80 293.44L214.11 292.88L214.43 292.66L214.75 292.78L215.06 294.49L215.38 294.63L215.69 294.83L216.01 294.69L216.32 293.53L216.64 292.77L216.95 292.69L217.27 292.84L217.58 292.12L217.90 293.69L218.21 294.76L218.53 294.79L218.85 292.67L219.16 292.59L219.48 292.58L219.79 293.23L220.11 292.22L220.42 292.88L220.74 292.50L221.05 293.35L221.37 293.31L221.68 293.96L222.00 293.69L222.31 294.36L222.63 293.45L222.95 293.84L223.26 292.96L223.58 292.40L223.89 292.23L224.21 292.92L224.52 292.41L224.84 292.56L225.15 293.45L225.47 293.21L225.78 292.68L226.10 293.49L226.42 293.98L226.73 293.90L227.05 293.11L227.36 293.08L227.68 292.67L227.99 293.17L228.31 291.07L228.62 291.99L228.94 293.58L229.25 293.18L229.57 293.19L229.88 293.36L230.20 293.13L230.52 292.63L230.83 290.27L231.15 290.59L231.46 291.82L231.78 292.15L232.09 292.86L232.41 292.98L232.72 294.26L233.04 293.65L233.35 294.24L233.67 293.34L233.98 293.11L234.30 291.72L234.62 293.23L234.93 293.19L235.25 292.87L235.56 294.43L235.88 293.79L236.19 293.73L236.51 292.50L236.82 292.92L237.14 292.82L237.45 293.54L237.77 293.71L238.08 295.69L238.40 294.16L238.72 295.66L239.03 294.37L239.35 294.67L239.66 293.91L239.98 293.89L240.29 294.30L240.61 293.57L240.92 293.24L241.24 294.24L241.55 294.00L241.87 291.69L242.19 293.47L242.50 293.55L242.82 291.89L243.13 292.55L243.45 292.83L243.76 291.69L244.08 292.45L244.39 292.83L244.71 293.32L245.02 293.61L245.34 293.47L245.65 294.61L245.97 296.20L246.29 294.85L246.60 293.34L246.92 293.90L247.23 292.84L247.55 294.32L247.86 294.00L248.18 293.97L248.49 294.10L248.81 293.44L249.12 294.29L249.44 293.74L249.75 294.08L250.07 294.47L250.39 292.82L250.70 289.85L251.02 291.89L251.33 293.12L251.65 292.90L251.96 293.72L252.28 293.56L252.59 292.82L252.91 290.40L253.22 289.82L253.54 291.12L253.85 292.05L254.17 293.54L254.49 293.43L254.80 293.32L255.12 293.81L255.43 292.79L255.75 293.51L256.06 292.07L256.38 290.95L256.69 291.91L257.01 292.09L257.32 291.76L257.64 292.06L257.96 292.32L258.27 293.04L258.59 293.37L258.90 293.83L259.22 293.73L259.53 293.40L259.85 293.13L260.16 291.62L260.48 291.60L260.79 291.92L261.11 292.64L261.42 291.85L261.74 292.70L262.06 293.62L262.37 295.17L262.69 294.23L263.00 293.38L263.32 293.98L263.63 293.56L263.95 293.37L264.26 294.11L264.58 292.61L264.89 292.96L265.21 292.46L265.52 292.52L265.84 291.19L266.16 291.33L266.47 292.08L266.79 292.67L267.10 293.37L267.42 293.28L267.73 293.55L268.05 293.49L268.36 292.83L268.68 291.69L268.99 292.67L269.31 290.81L269.62 291.32L269.94 292.63L270.26 292.39L270.57 293.77L270.89 293.96L271.20 293.59L271.52 292.91L271.83 293.23L272.15 292.34L272.46 292.89L272.78 292.93L273.09 292.95L273.41 293.22L273.73 293.12L274.04 292.08L274.36 293.49L274.67 293.69L274.99 294.98L275.30 294.30L275.62 293.91L275.93 294.38L276.25 294.38L276.56 294.15L276.88 293.91L277.19 293.06L277.51 293.81L277.83 294.27L278.14 291.76L278.46 292.14L278.77 293.27L279.09 293.04L279.40 293.38L279.72 292.23L280.03 292.94L280.35 293.28L280.66 293.03L280.98 293.18L281.29 292.80L281.61 293.93L281.93 293.12L282.24 293.50L282.56 292.63L282.87 293.44L283.19 291.78L283.50 291.69L283.82 289.98L284.13 293.07L284.45 293.82L284.76 292.89L285.08 292.47L285.39 293.97L285.71 292.68L286.03 294.61L286.34 292.97L286.66 290.99L286.97 292.36L287.29 293.16L287.60 294.43L287.92 294.12L288.23 293.91L288.55 294.24L288.86 292.84L289.18 291.83L289.50 293.34L289.81 292.34L290.13 293.39L290.44 292.52L290.76 292.72L291.07 292.86L291.39 291.50L291.70 293.50L292.02 292.38L292.33 292.60L292.65 293.41L292.96 292.28L293.28 292.43L293.60 293.00L293.91 294.16L294.23 294.07L294.54 294.10L294.86 292.79L295.17 293.24L295.49 292.58L295.80 293.74L296.12 291.73L296.43 293.15L296.75 292.33L297.06 291.39L297.38 291.26L297.70 293.16L298.01 294.72L298.33 292.77L298.64 291.66L298.96 292.00L299.27 292.17L299.59 292.59L299.90 292.78L300.22 293.59L300.53 292.56L300.85 292.40L301.16 292.09L301.48 292.19L301.80 293.21L302.11 295.10L302.43 292.81L302.74 291.71L303.06 290.90L303.37 292.74L303.69 291.90L304.00 291.73L304.32 293.58L304.63 293.36L304.95 291.87L305.27 292.99L305.58 294.01L305.90 294.14L306.21 292.46L306.53 293.68L306.84 293.30L307.16 291.18L307.47 290.44L307.79 291.64L308.10 293.84L308.42 294.17L308.73 292.83L309.05 291.56L309.37 292.71L309.68 293.96L310.00 293.10L310.31 292.34L310.63 292.83L310.94 293.38L311.26 292.51L311.57 292.41L311.89 291.91L312.20 292.89L312.52 291.74L312.83 293.14L313.15 293.11L313.47 293.54L313.78 293.24L314.10 293.83L314.41 292.93L314.73 292.63L315.04 293.73L315.36 293.82L315.67 293.98L315.99 294.37L316.30 294.96L316.62 293.08L316.93 292.64L317.25 292.26L317.57 292.25L317.88 291.79L318.20 293.22L318.51 290.94L318.83 292.20L319.14 291.71L319.46 292.46L319.77 291.12L320.09 293.09L320.40 291.51L320.72 292.71L321.04 292.47L321.35 291.96L321.67 291.28L321.98 291.93L322.30 293.16L322.61 292.41L322.93 290.52L323.24 289.43L323.56 291.45L323.87 291.94L324.19 292.61L324.50 293.57L324.82 295.00L325.14 294.69L325.45 294.18L325.77 293.27L326.08 293.10L326.40 292.65L326.71 293.37L327.03 292.66L327.34 293.35L327.66 294.67L327.97 294.14L328.29 294.43L328.60 294.28L328.92 291.98L329.24 292.00L329.55 292.87L329.87 291.67L330.18 291.83L330.50 291.83L330.81 291.47L331.13 292.51L331.44 292.64L331.76 291.83L332.07 290.55L332.39 290.73L332.70 290.27L333.02 290.97L333.34 289.65L333.65 288.94L333.97 288.65L334.28 287.85L334.60 285.81L334.91 283.23L335.23 278.31L335.54 268.65L335.86 250.43L336.17 221.78L336.49 192.98L336.65 187.95L336.81 192.89L337.12 221.70L337.44 250.11L337.75 268.47L338.07 278.09L338.38 283.88L338.70 286.43L339.01 287.73L339.33 288.68L339.64 289.95L339.96 291.58L340.27 290.30L340.59 291.08L340.91 291.04L341.22 290.66L341.54 290.20L341.85 288.57L342.17 287.31L342.48 283.55L342.80 279.39L343.11 273.06L343.43 266.43L343.74 263.28L343.74 263.48L344.06 266.73L344.37 273.26L344.69 279.80L345.01 284.05L345.32 286.36L345.64 287.85L345.95 289.71L346.27 290.36L346.58 290.99L346.90 291.26L347.21 290.82L347.53 291.10L347.84 292.03L348.16 292.37L348.47 292.66L348.79 293.15L349.11 292.49L349.42 292.95L349.74 292.54L350.05 291.70L350.37 292.62L350.68 292.25L351.00 292.67L351.31 291.65L351.63 293.21L351.94 293.29L352.26 292.47L352.58 292.63L352.89 292.70L353.21 292.64L353.52 293.24L353.84 292.45L354.15 292.16L354.47 292.51L354.78 293.55L355.10 292.49L355.41 292.39L355.73 292.54L356.04 293.14L356.36 293.68L356.68 292.47L356.99 292.83L357.31 292.55L357.62 292.24L357.94 291.61L358.25 292.02L358.57 291.73L358.88 291.11L359.20 292.97L359.51 291.21L359.83 290.92L360.14 291.82L360.46 291.20L360.78 290.92L361.09 291.10L361.41 290.47L361.72 289.06L362.04 288.48L362.35 288.16L362.67 288.14L362.98 289.09L363.30 290.97L363.46 291.02L363.61 291.14L363.93 290.60L364.24 291.42L364.56 290.50L364.88 291.89L365.19 292.13L365.51 291.35L365.82 290.98L366.14 291.70L366.45 290.99L366.77 290.88L367.08 291.36L367.40 290.81L367.71 290.94L368.03 291.70L368.35 290.62L368.66 292.23L368.98 292.05L369.29 292.24L369.61 291.61L369.92 291.67L370.24 292.65L370.55 293.90L370.87 292.57L371.18 293.33L371.50 292.80L371.81 293.09L372.13 292.47L372.45 292.59L372.76 293.14L373.08 292.69L373.39 292.64L373.71 291.54L374.02 292.21L374.34 292.35L374.65 293.25L374.97 293.02L375.28 292.14L375.60 291.72L375.91 292.54L376.23 293.13L376.55 293.29L376.86 293.66L377.18 292.36L377.49 292.62L377.81 293.67L378.12 292.99L378.44 293.90L378.75 293.74L379.07 293.66L379.38 293.73L379.70 292.07L380.01 293.09L380.33 293.40L380.65 293.13L380.96 293.54L381.28 291.94L381.59 291.99L381.91 292.95L382.22 292.26L382.54 292.85L382.85 293.06L383.17 294.05L383.48 291.53L383.80 291.04L384.12 291.35L384.43 292.16L384.75 292.14L385.06 291.05L385.38 292.05L385.69 291.18L386.01 290.99L386.32 291.78L386.64 291.53L386.95 290.15L387.27 289.38L387.58 290.41L387.90 291.16L388.22 290.47L388.53 288.48L388.85 287.92L389.16 286.25L389.48 285.38L389.79 284.11L390.11 282.54L390.42 279.27L390.74 274.87L391.05 268.74L391.37 260.81L391.68 251.72L392.00 242.65L392.32 237.46L392.39 237.15L392.63 239.37L392.95 246.77L393.26 256.33L393.58 265.09L393.89 271.96L394.21 277.26L394.52 280.90L394.84 283.69L395.15 285.82L395.47 286.85L395.78 287.96L396.10 289.54L396.42 289.10L396.73 290.82L397.05 290.63L397.36 291.21L397.68 291.08L397.99 291.02L398.31 291.76L398.62 291.06L398.94 291.29L399.25 292.54L399.57 292.13L399.89 293.51L400.20 293.48L400.52 293.02L400.83 292.03L401.15 291.03L401.46 292.95L401.78 291.04L402.09 291.20L402.41 293.05L402.72 293.49L403.04 293.60L403.35 293.37L403.67 292.91L403.99 292.64L404.30 292.76L404.62 293.19L404.93 292.75L405.25 292.09L405.56 291.74L405.88 290.81L406.19 292.59L406.51 292.16L406.82 290.63L407.14 293.31L407.45 292.91L407.77 292.54L408.09 291.99L408.40 291.25L408.72 292.44L409.03 293.48L409.35 293.80L409.66 293.77L409.98 293.29L410.29 294.57L410.61 293.28L410.92 292.63L411.24 291.98L411.55 291.96L411.87 292.25L412.19 292.76L412.50 292.97L412.82 293.50L413.13 294.58L413.45 293.85L413.76 292.16L414.08 291.70L414.39 291.78L414.71 292.49L415.02 293.36L415.34 293.34L415.66 293.24L415.97 292.11L416.29 292.18L416.60 291.66L416.92 292.68L417.23 292.99L417.55 293.38L417.86 292.23L418.18 292.62L418.49 293.94L418.81 293.88L419.12 294.22L419.44 293.60L419.76 293.42L420.07 293.07L420.39 293.86L420.70 293.70L421.02 293.90L421.33 294.91L421.65 293.64L421.96 293.82L422.28 294.34L422.59 294.76L422.91 291.47L423.22 291.64L423.54 292.63L423.86 291.08L424.17 292.59L424.49 292.65L424.80 292.90L425.12 293.65L425.43 292.74L425.75 294.02L426.06 294.12L426.38 292.20L426.69 292.63L427.01 294.07L427.32 293.89L427.64 292.78L427.96 293.14L428.27 291.17L428.59 292.49L428.90 293.19L429.22 292.43L429.53 292.59L429.85 291.13L430.16 292.72L430.48 292.79L430.79 293.67L431.11 293.26L431.43 292.00L431.74 291.73L432.06 292.31L432.37 292.08L432.69 292.52L433.00 293.59L433.32 293.72L433.63 295.75L433.95 293.63L434.26 292.21L434.58 291.39L434.89 291.91L435.21 293.04L435.53 293.34L435.84 294.50L436.16 294.46L436.47 293.44L436.79 292.13L437.10 293.29L437.42 294.25L437.73 293.34L438.05 293.94L438.36 292.54L438.68 293.06L438.99 292.75L439.31 293.44L439.63 294.77L439.94 292.57L440.26 293.80L440.57 295.57L440.89 293.84L441.20 293.85L441.52 293.51L441.83 293.71L442.15 292.50L442.46 293.58L442.78 293.66L443.09 294.73L443.41 292.46L443.73 291.48L444.04 291.69L444.36 290.30L444.67 292.33L444.99 293.96L445.30 293.90L445.62 294.22L445.93 293.85L446.25 293.83L446.56 292.88L446.88 294.44L447.20 293.20L447.51 293.25L447.83 294.57L448.14 293.14L448.46 292.43L448.77 293.62L449.09 293.07L449.40 293.86L449.72 292.49L450.03 291.30L450.35 292.48L450.66 293.72L450.98 293.08L451.30 293.15L451.61 292.95L451.93 292.56L452.24 292.64L452.56 293.25L452.87 293.17L453.19 292.97L453.50 293.91L453.82 293.46L454.13 292.91L454.45 293.48L454.76 291.83L455.08 293.73L455.40 293.52L455.71 292.23L456.03 294.64L456.34 293.56L456.66 293.25L456.97 293.66L457.29 294.41L457.60 293.18L457.92 291.16L458.23 291.33L458.55 291.80L458.86 291.85L459.18 292.84L459.50 292.52L459.81 293.26L460.13 293.99L460.44 293.53L460.76 294.43L461.07 294.21L461.39 295.03L461.70 294.23L462.02 294.07L462.33 293.77L462.65 293.31L462.97 292.74L463.28 292.85L463.60 291.81L463.91 291.90L464.23 293.09L464.54 294.19L464.86 294.43L465.17 294.11L465.49 293.82L465.80 292.12L466.12 291.96L466.43 291.54L466.75 291.71L467.07 293.44L467.38 293.03L467.70 293.38L468.01 294.71L468.33 294.45L468.64 291.55L468.96 291.43L469.27 290.34L469.59 292.54L469.90 291.95L470.22 292.58L470.53 292.65L470.85 294.37L471.17 291.93L471.48 293.52L471.80 293.66L472.11 293.25L472.43 293.80L472.74 294.93L473.06 293.60L473.37 292.72L473.69 293.15L474.00 292.79L474.32 292.17L474.63 293.52L474.95 293.32L475.27 292.20L475.58 292.06L475.90 291.97L476.21 291.38L476.53 292.85L476.84 293.16L477.16 292.09L477.47 293.66L477.79 294.50L478.10 292.47L478.42 291.99L478.74 291.74L479.05 290.46L479.37 291.23L479.68 289.98L480.00 291.86L480.31 291.65L480.63 292.59L480.94 293.72L481.26 292.99L481.57 293.92L481.89 292.24L482.20 292.48L482.52 292.65L482.84 291.70L483.15 292.80L483.47 290.64L483.78 292.65L484.10 291.58L484.41 291.65L484.73 291.39L485.04 291.93L485.36 291.50L485.67 293.45L485.99 293.08L486.30 293.05L486.62 292.57L486.94 292.57L487.25 291.32L487.57 292.16L487.88 292.30L488.20 290.77L488.51 292.02L488.83 292.81L489.14 291.92L489.46 291.71L489.77 291.52L490.09 294.23L490.40 292.56L490.72 293.55L491.04 293.12L491.35 294.24L491.67 295.08L491.98 293.28L492.30 294.01L492.61 293.46L492.93 292.78L493.24 293.48L493.56 294.14L493.87 293.92L494.19 292.99L494.51 291.84L494.82 291.07L495.14 292.70L495.45 292.93L495.77 293.56L496.08 293.02L496.40 293.29L496.71 294.24L497.03 293.84L497.34 293.59L497.66 292.77L497.97 291.35L498.29 290.81L498.61 290.90L498.92 291.03L499.24 291.01L499.55 291.54L499.87 293.48L500.18 292.27L500.50 292.57L500.81 291.53L501.13 291.45L501.44 290.79L501.76 290.51L502.07 290.10L502.39 288.80L502.71 288.04L503.02 288.21L503.02 289.02L503.34 288.52L503.65 289.28L503.97 291.57L504.28 290.21L504.60 291.29L504.91 291.95L505.23 292.36L505.54 292.51L505.86 293.19L506.17 292.32L506.49 292.37L506.81 291.31L507.12 292.64L507.44 292.00L507.75 291.70L508.07 293.01L508.38 293.60L508.70 293.94L509.01 294.41L509.33 293.93L509.64 292.94L509.96 291.81L510.28 292.95L510.59 292.32L510.91 293.17L511.22 293.66L511.54 294.02L511.85 292.54L512.17 292.61L512.48 292.32L512.80 290.74L513.11 290.52L513.43 292.56L513.74 291.62L514.06 293.55L514.38 293.31L514.69 294.28L515.01 293.82L515.32 292.37L515.64 290.70L515.95 292.56L516.27 292.35L516.58 291.86L516.90 291.17L517.21 289.23L517.53 291.52L517.84 293.17L518.16 292.99L518.48 292.86L518.79 293.22L519.11 291.77L519.42 293.40L519.74 293.27L520.05 292.64L520.37 292.73L520.68 291.32L521.00 292.39L521.31 292.78L521.63 292.84L521.94 293.30L522.26 292.61L522.58 293.78L522.89 292.79L523.21 293.04L523.52 293.23L523.84 292.19L524.15 292.05L524.47 293.28L524.78 292.10L525.10 292.56L525.41 294.07L525.73 293.34L526.05 293.11L526.36 291.81L526.68 290.79L526.99 293.22L527.31 293.06L527.62 293.46L527.94 291.36L528.25 290.74L528.57 291.31L528.88 292.45L529.20 292.20L529.51 289.81L529.83 289.48L530.15 292.07L530.46 292.95L530.78 293.32L531.09 292.85L531.41 291.23L531.72 292.00L532.04 291.84L532.35 293.04L532.67 292.56L532.98 292.06L533.30 293.39L533.61 293.13L533.93 292.54L534.25 292.16L534.56 292.20L534.88 293.35L535.19 292.38L535.51 293.16L535.82 293.65L536.14 293.43L536.45 292.37L536.77 293.97L537.08 292.73L537.40 291.68L537.71 291.89L538.03 292.68L538.35 293.21L538.66 293.80L538.98 291.86L539.29 293.00L539.61 293.71L539.92 292.75L540.24 292.48L540.55 292.55L540.87 293.27L541.18 292.78L541.50 292.79L541.82 292.05L542.13 293.19L542.45 292.44L542.76 292.13L543.08 293.95L543.39 292.90L543.71 293.92L544.02 293.03L544.34 292.66L544.65 292.72L544.97 293.17L545.28 294.13L545.60 294.08L545.92 293.26L546.23 292.46L546.55 292.02L546.86 292.39L547.18 293.40L547.49 293.34L547.81 291.25L548.12 293.01L548.44 292.27L548.75 292.31L549.07 292.12L549.38 292.30L549.70 292.16L550.02 291.03L550.33 292.70L550.65 291.67L550.96 292.77L551.28 292.62L551.59 291.27L551.91 291.92L552.22 292.40L552.54 292.78L552.85 294.85L553.17 293.95L553.48 293.87L553.80 294.00L554.12 291.77L554.43 291.57L554.75 291.33L555.06 293.80L555.38 293.79L555.69 294.09L556.01 292.21L556.32 293.47L556.64 293.70L556.95 294.12L557.27 294.52L557.59 293.70L557.90 294.33L558.22 293.41L558.53 292.36L558.85 293.44L559.16 292.81L559.48 292.67L559.79 293.94L560.11 291.55L560.42 289.74L560.74 289.76L561.05 292.50L561.37 293.15L561.69 292.25L562.00 290.85L562.32 291.51L562.63 291.67L562.95 292.62L563.26 292.13L563.58 292.08L563.89 292.72L564.21 292.58L564.52 293.56L564.84 291.71L565.15 293.40L565.47 294.85L565.79 293.85L566.10 292.67L566.42 293.30L566.73 293.16L567.05 293.04L567.36 293.53L567.68 291.86L567.99 292.47L568.31 292.08L568.62 292.31L568.94 291.92L569.25 292.54L569.57 291.85L569.89 291.07L570.20 291.49L570.52 292.75L570.83 294.30L571.15 292.75L571.46 292.60L571.78 291.54L572.09 291.74L572.41 290.66L572.72 292.37L573.04 292.69L573.36 292.23L573.67 293.22L573.99 293.20L574.30 291.40L574.62 290.57L574.93 290.19L575.25 291.62L575.56 290.43L575.88 292.23L576.19 292.70L576.51 292.56L576.82 291.12L577.14 288.72L577.46 288.92L577.77 286.81L578.09 286.68L578.40 285.97L578.72 285.71L579.03 284.40L579.35 282.37L579.66 278.69L579.98 273.50L580.29 265.74L580.61 254.45L580.92 238.51L581.24 219.20L581.56 200.81L581.87 192.81L581.87 192.87L582.19 200.98L582.50 219.24L582.82 238.41L583.13 254.14L583.45 265.66L583.76 273.37L584.08 278.31L584.39 281.64L584.71 284.08L585.02 286.28L585.34 286.10L585.66 286.86L585.97 287.77L586.29 288.69L586.60 289.91L586.92 289.33L587.23 291.20L587.55 291.66L587.86 291.04L588.18 291.13L588.49 291.75L588.81 291.46L589.13 291.20L589.44 291.50L589.76 291.42L590.07 292.34L590.39 292.08L590.70 292.91L591.02 292.18L591.33 292.61L591.65 291.25L591.96 291.01L592.28 291.52L592.59 291.04L592.91 292.00L593.23 292.85L593.54 293.18L593.86 294.01L594.17 292.48L594.49 293.37L594.80 293.11L595.12 292.77L595.43 291.52L595.75 291.13L596.06 290.72L596.38 291.55L596.69 291.14L597.01 290.82L597.33 291.33L597.64 292.01L597.96 292.30L598.27 292.55L598.59 292.72L598.90 292.48L599.22 291.79L599.53 291.11L599.85 291.51L600.16 291.06L600.48 292.18L600.79 291.85L601.11 292.55L601.43 291.47L601.74 291.70L602.06 291.41L602.37 292.53L602.69 294.13L603.00 292.32L603.32 291.81L603.63 292.04L603.95 291.74L604.26 292.87L604.58 292.82L604.90 292.73L605.21 292.47L605.53 294.16L605.84 293.75L606.16 292.45L606.47 291.45L606.79 291.73L607.10 291.81L607.42 293.00L607.73 293.27L608.05 293.84L608.36 292.02L608.68 290.75L609.00 292.58L609.31 291.20L609.63 291.53L609.94 293.33L610.26 292.33L610.57 293.44L610.89 291.08L611.20 293.35L611.52 292.43L611.83 292.33L612.15 292.33L612.46 290.15L612.78 291.38L613.10 292.64L613.41 294.76L613.73 291.80L614.04 293.10L614.36 291.68L614.67 291.71L614.99 290.30L615.30 291.14L615.62 290.15L615.93 290.41L616.25 292.95L616.56 292.80L616.88 291.98L617.20 291.77L617.51 290.80L617.83 291.35L618.14 293.07L618.46 293.18L618.77 294.01L619.09 292.49L619.40 293.65L619.72 293.69L620.03 292.63L620.35 292.42L620.67 292.28L620.98 291.50L621.30 291.18L621.61 292.63L621.93 291.81L622.24 291.85L622.56 292.65L622.87 291.59L623.19 291.41L623.50 290.54L623.82 290.99L624.13 291.85L624.45 292.80L624.77 293.56L625.08 291.42L625.40 290.70L625.71 292.43L626.03 294.51L626.34 292.90L626.66 293.08L626.97 292.11L627.29 291.25L627.60 291.60L627.92 291.64L628.23 292.67L628.55 293.29L628.87 293.11L629.18 294.99L629.50 291.81L629.81 292.24L630.13 291.27L630.44 292.00L630.76 291.63L631.07 289.92L631.39 290.99L631.70 291.94L632.02 291.75L632.33 291.37L632.65 291.85L632.97 292.38L633.28 292.79L633.60 291.52L633.91 291.68L634.23 290.70L634.54 290.13L634.86 290.22L635.17 291.03L635.49 290.40L635.80 289.94L636.12 289.92L636.44 289.50L636.75 288.03L637.07 286.50L637.38 284.74L637.70 283.09L638.01 281.15L638.33 280.01L638.64 279.24L638.64 279.34L638.96 279.92L639.27 281.39L639.59 282.82L639.90 284.53L640.22 286.29L640.54 287.48L640.85 288.31L641.17 289.53L641.48 290.37L641.80 292.26L642.11 292.17L642.43 292.39L642.74 292.92L643.06 291.91L643.37 290.98L643.69 290.75L644.00 292.19L644.32 291.53L644.64 292.19L644.95 293.98L645.27 293.11L645.58 292.33L645.90 292.68L646.21 293.87L646.53 293.09L646.84 292.89L647.16 291.81L647.47 291.73L647.79 292.25L648.10 291.37L648.42 291.99L648.74 293.06L649.05 292.71L649.37 294.32L649.68 293.52L650.00 293.00L650.31 292.53L650.63 291.62L650.94 292.29L651.26 291.43L651.57 292.55L651.89 291.61L652.21 292.62L652.52 292.90L652.84 291.90L653.15 292.19L653.47 291.06L653.78 293.99L654.10 293.08L654.41 293.89L654.73 293.53L655.04 294.41L655.36 293.37L655.67 293.85L655.99 292.81L656.31 292.29L656.62 292.52L656.94 291.16L657.25 292.53L657.57 292.36L657.88 293.46L658.20 293.04L658.51 292.37L658.83 292.14L659.14 293.93L659.46 291.72L659.77 293.62L660.09 293.12L660.41 293.02L660.72 291.40L661.04 292.60L661.35 291.35L661.67 291.21L661.98 292.77L662.30 292.64L662.61 293.06L662.93 291.81L663.24 292.43L663.56 292.11L663.87 291.10L664.19 291.59L664.51 292.31L664.82 292.49L665.14 292.08L665.45 293.18L665.77 293.16L666.08 293.55L666.40 293.74L666.71 292.97L667.03 293.14L667.34 292.78L667.66 292.26L667.98 292.01L668.29 291.87L668.61 291.16L668.92 292.00L669.24 291.51L669.55 292.69L669.87 292.64L670.18 293.63L670.50 292.38L670.81 291.03L671.13 291.34L671.44 292.51L671.76 293.46L672.08 292.39L672.39 291.37L672.71 291.37L673.02 292.05L673.34 292.96L673.65 292.80L673.97 293.50L674.28 293.13L674.60 292.97L674.91 292.94L675.23 294.08L675.54 291.69L675.86 292.41L676.18 292.92L676.49 293.72L676.81 292.77L677.12 293.03L677.44 290.74L677.75 292.71L678.07 290.83L678.38 291.56L678.70 292.74L679.01 292.87L679.33 293.22L679.64 293.69L679.96 293.59L680.28 293.64L680.59 293.04L680.91 291.81L681.22 291.88L681.54 293.33L681.85 293.85L682.17 293.38L682.48 293.51L682.80 293.11L683.11 293.52L683.43 291.30L683.75 290.82L684.06 289.96L684.38 290.77L684.69 290.19L685.01 291.49L685.32 290.61L685.64 290.38L685.95 291.67L686.27 291.85L686.58 292.28L686.90 291.95L687.21 291.42L687.53 291.11L687.85 290.82L688.16 291.38L688.48 292.72L688.79 292.32L689.11 292.12L689.42 292.63L689.74 292.06L690.05 291.88L690.37 292.45L690.68 292.01L691.00 292.35L691.31 294.66L691.63 294.69L691.95 292.94L692.26 292.94L692.58 291.81L692.89 292.09L693.21 293.22L693.52 293.24L693.84 294.18L694.15 291.14L694.47 292.05L694.78 291.07L695.10 291.06L695.41 290.02L695.73 291.43L696.05 293.22L696.36 293.43L696.68 293.02L696.99 292.55L697.31 292.64L697.62 292.17L697.94 291.70L698.25 291.36L698.57 291.31L698.88 290.94L699.20 290.87L699.52 290.93L699.83 288.69L700.15 288.40L700.46 288.40L700.78 288.95L701.09 288.76L701.41 287.52L701.72 286.51L702.04 286.31L702.35 287.35L702.67 286.96L702.98 285.78L703.30 285.80"/>
<path stroke="#1b6bdd" stroke-width="2.0" d="M73.40 168.50L73.40 179.50L73.60 175.50L72.50 176.86L72.82 174.96L73.13 174.50L73.45 172.85L73.76 174.27L74.08 174.54L74.39 175.67L74.71 176.21L75.02 175.24L75.34 175.65L75.65 174.70L75.97 174.50L76.28 175.28L76.60 175.51L76.92 174.54L77.23 174.88L77.55 173.78L77.86 173.91L78.18 173.98L78.49 173.96L78.81 174.16L79.12 174.20L79.44 174.85L79.75 174.89L80.07 174.66L80.38 175.48L80.70 175.77L81.02 178.11L81.33 176.57L81.65 175.81L81.96 175.48L82.28 174.04L82.59 174.85L82.91 174.68L83.22 174.93L83.54 175.39L83.85 175.01L84.17 173.88L84.49 174.46L84.80 174.62L85.12 174.50L85.43 173.77L85.75 173.51L86.06 174.66L86.38 174.72L86.69 174.71L87.01 174.15L87.32 175.92L87.64 174.03L87.95 175.00L88.27 175.93L88.59 174.75L88.90 175.21L89.22 174.85L89.53 176.27L89.85 174.81L90.16 175.24L90.48 174.91L90.79 174.43L91.11 175.36L91.42 174.37L91.74 175.06L92.05 175.71L92.37 175.89L92.69 176.05L93.00 176.02L93.32 175.24L93.63 174.88L93.95 174.65L94.26 174.47L94.58 175.08L94.89 174.69L95.21 175.05L95.52 174.99L95.84 174.82L96.15 175.76L96.47 175.23L96.79 176.02L97.10 177.01L97.42 175.34L97.73 175.29L98.05 174.09L98.36 174.58L98.68 174.14L98.99 174.66L99.31 174.87L99.62 175.46L99.94 176.40L100.26 175.38L100.57 175.11L100.89 174.35L101.20 174.40L101.52 174.27L101.83 173.98L102.15 175.09L102.46 176.07L102.78 175.82L103.09 175.30L103.41 176.21L103.72 175.20L104.04 175.00L104.36 174.62L104.67 174.62L104.99 175.08L105.30 176.22L105.62 175.37L105.93 174.18L106.25 173.56L106.56 172.91L106.88 173.14L107.19 174.86L107.51 176.02L107.82 175.39L108.14 175.03L108.46 173.67L108.77 173.28L109.09 174.42L109.40 174.12L109.72 173.35L110.03 174.54L110.35 174.87L110.66 175.16L110.98 175.07L111.29 174.80L111.61 174.81L111.92 174.48L112.24 174.08L112.56 173.07L112.87 172.37L113.19 173.17L113.50 173.00L113.82 174.07L114.13 174.49L114.45 174.22L114.76 173.88L115.08 174.01L115.39 174.80L115.71 174.25L116.03 175.29L116.34 175.00L116.66 174.60L116.97 174.94L117.29 173.79L117.60 174.36L117.92 173.35L118.23 173.59L118.55 173.58L118.86 174.37L119.18 173.35L119.49 173.39L119.81 172.45L120.13 173.18L120.44 173.26L120.76 172.27L121.07 173.17L121.39 172.94L121.70 173.92L122.02 172.89L122.33 172.09L122.65 173.46L122.96 172.54L123.28 171.94L123.59 171.92L123.91 171.35L124.23 171.87L124.54 171.33L124.86 172.71L125.17 172.57L125.49 171.76L125.80 171.19L126.12 170.97L126.43 169.72L126.75 171.28L127.06 172.05L127.38 172.46L127.69 172.51L128.01 172.93L128.33 173.29L128.64 172.82L128.96 171.67L129.27 171.54L129.59 171.21L129.90 172.12L130.22 171.92L130.53 172.48L130.85 171.40L131.16 171.33L131.48 172.20L131.80 172.90L132.11 172.45L132.43 172.25L132.74 171.94L133.06 171.38L133.37 171.20L133.69 171.93L134.00 172.07L134.32 173.24L134.63 173.28L134.95 172.86L135.26 172.61L135.58 173.79L135.90 174.43L136.21 173.24L136.53 172.83L136.84 171.49L137.16 171.52L137.47 172.90L137.79 173.04L138.10 173.54L138.42 172.85L138.73 173.79L139.05 173.25L139.36 173.72L139.68 172.91L140.00 173.44L140.31 173.99L140.63 175.36L140.94 174.18L141.26 173.20L141.57 172.46L141.89 172.84L142.20 174.35L142.52 173.27L142.83 173.40L143.15 173.77L143.46 173.71L143.78 173.71L144.10 174.73L144.41 175.32L144.73 175.11L145.04 174.39L145.36 174.80L145.67 174.10L145.99 174.64L146.30 173.41L146.62 174.04L146.93 172.76L147.25 172.37L147.57 174.09L147.88 174.31L148.20 175.70L148.51 174.83L148.83 175.85L149.14 174.94L149.46 174.45L149.77 175.07L150.09 175.41L150.40 174.79L150.72 175.48L151.03 176.29L151.35 175.60L151.67 175.04L151.98 174.62L152.30 174.92L152.61 173.77L152.93 172.87L153.24 173.91L153.56 173.70L153.87 174.95L154.19 174.25L154.50 173.76L154.82 173.69L155.13 174.96L155.45 174.89L155.77 175.52L156.08 175.10L156.40 174.54L156.71 173.90L157.03 174.12L157.34 174.87L157.66 175.27L157.97 173.84L158.29 175.82L158.60 174.80L158.92 175.45L159.23 174.70L159.55 175.32L159.87 175.37L160.18 175.42L160.50 175.85L160.81 175.34L161.13 174.20L161.44 174.19L161.76 174.47L162.07 174.35L162.39 173.80L162.70 174.24L163.02 174.71L163.34 174.70L163.65 174.92L163.97 176.50L164.28 175.92L164.60 176.05L164.91 175.58L165.23 176.41L165.54 176.50L165.86 175.50L166.17 175.72L166.49 175.04L166.80 176.06L167.12 175.58L167.44 174.93L167.75 176.01L168.07 175.75L168.38 175.65L168.70 175.50L169.01 174.91L169.33 175.22L169.64 175.98L169.96 175.93L170.27 175.15L170.59 176.11L170.90 174.73L171.22 174.78L171.54 174.94L171.85 175.77L172.17 175.84L172.48 175.45L172.80 175.67L173.11 174.76L173.43 175.41L173.74 175.52L174.06 175.65L174.37 175.79L174.69 174.58L175.00 177.42L175.32 176.17L175.64 177.24L175.95 177.20L176.27 176.95L176.58 176.43L176.90 175.01L177.21 175.81L177.53 176.61L177.84 175.03L178.16 174.14L178.47 172.73L178.79 174.67L179.11 174.71L179.42 174.44L179.74 174.66L180.05 174.55L180.37 173.97L180.68 174.48L181.00 174.80L181.31 174.92L181.63 174.22L181.94 172.56L182.26 170.99L182.57 170.67L182.89 169.21L183.21 167.43L183.52 165.65L183.84 163.83L184.07 163.46L184.15 163.55L184.47 164.28L184.78 166.22L185.10 167.99L185.41 169.71L185.73 171.38L186.04 172.09L186.36 172.25L186.67 173.52L186.99 173.58L187.31 174.71L187.62 174.77L187.94 174.71L188.25 175.17L188.57 175.93L188.88 176.02L189.20 176.05L189.51 176.43L189.83 176.47L190.14 176.05L190.46 175.87L190.77 175.06L191.09 175.48L191.41 175.09L191.72 175.08L192.04 174.93L192.35 175.36L192.67 176.01L192.98 176.33L193.30 175.73L193.61 175.86L193.93 176.67L194.24 176.29L194.56 175.24L194.88 176.47L195.19 176.22L195.51 176.88L195.82 175.87L196.14 175.55L196.45 174.72L196.77 174.35L197.08 174.86L197.40 174.84L197.71 175.34L198.03 174.35L198.34 173.92L198.66 175.35L198.98 175.99L199.29 176.52L199.61 176.05L199.92 174.61L200.24 174.60L200.55 174.29L200.87 174.13L201.18 172.89L201.50 173.57L201.81 173.52L202.13 172.91L202.44 173.47L202.60 173.98L202.76 173.63L203.08 174.28L203.39 174.12L203.71 173.78L204.02 173.68L204.34 173.50L204.65 174.28L204.97 173.69L205.28 174.05L205.60 175.10L205.91 174.93L206.23 175.99L206.54 176.81L206.86 176.91L207.18 176.37L207.49 176.15L207.81 175.49L208.12 174.43L208.44 174.48L208.75 175.60L209.07 175.05L209.38 173.81L209.70 174.01L210.01 174.59L210.33 174.11L210.65 174.72L210.96 174.98L211.28 175.60L211.59 175.29L211.91 176.17L212.22 176.85L212.54 175.70L212.85 176.45L213.17 176.11L213.48 175.76L213.80 175.52L214.11 175.11L214.43 175.31L214.75 176.00L215.06 176.05L215.38 176.11L215.69 176.00L216.01 175.98L216.32 175.39L216.64 174.65L216.95 174.90L217.27 174.65L217.58 174.71L217.90 174.24L218.21 174.94L218.53 174.64L218.85 175.50L219.16 175.10L219.48 175.29L219.79 175.30L220.11 175.01L220.42 175.63L220.74 174.60L221.05 174.19L221.37 175.51L221.68 175.64L222.00 175.57L222.31 175.17L222.63 175.40L222.95 175.32L223.26 174.97L223.58 175.56L223.89 176.32L224.21 175.55L224.52 176.37L224.84 174.53L225.15 175.09L225.47 175.83L225.78 175.12L226.10 175.11L226.42 175.24L226.73 175.74L227.05 176.70L227.36 176.17L227.68 176.18L227.99 175.96L228.31 176.81L228.62 176.73L228.94 175.39L229.25 174.72L229.57 174.14L229.88 175.25L230.20 175.39L230.52 176.32L230.83 176.68L231.15 175.11L231.46 174.60L231.78 175.74L232.09 175.64L232.41 175.54L232.72 175.86L233.04 175.76L233.35 176.29L233.67 175.97L233.98 176.53L234.30 175.70L234.62 175.85L234.93 176.25L235.25 175.98L235.56 176.29L235.88 175.75L236.19 175.32L236.51 175.99L236.82 175.99L237.14 175.87L237.45 175.62L237.77 175.32L238.08 175.03L238.40 175.31L238.72 175.70L239.03 175.57L239.35 176.33L239.66 176.31L239.98 175.87L240.29 176.37L240.61 175.85L240.92 174.81L241.24 175.76L241.55 176.72L241.87 176.96L242.19 177.03L242.50 176.48L242.82 176.35L243.13 176.15L243.45 176.71L243.76 176.63L244.08 176.57L244.39 175.02L244.71 175.39L245.02 175.69L245.34 175.30L245.65 174.94L245.97 175.29L246.29 174.78L246.60 174.89L246.92 175.19L247.23 175.38L247.55 175.95L247.86 174.81L248.18 175.29L248.49 173.84L248.81 174.33L249.12 174.80L249.44 175.44L249.75 174.51L250.07 173.68L250.39 174.54L250.70 174.55L251.02 174.27L251.33 174.39L251.65 173.76L251.96 173.22L252.28 172.45L252.59 171.27L252.91 171.63L253.22 169.51L253.54 166.94L253.85 163.94L254.17 160.15L254.49 156.37L254.80 153.21L255.04 152.28L255.12 152.37L255.43 154.41L255.75 158.08L256.06 162.03L256.38 165.10L256.69 167.98L257.01 169.32L257.32 170.76L257.64 172.23L257.96 172.05L258.27 173.03L258.59 174.10L258.90 174.30L259.22 174.30L259.53 174.43L259.85 173.96L260.16 174.32L260.48 174.00L260.79 173.94L261.11 175.48L261.42 174.82L261.74 175.14L262.06 175.73L262.37 175.30L262.69 174.35L263.00 174.31L263.32 174.46L263.63 174.06L263.95 174.53L264.26 174.22L264.58 174.07L264.89 173.98L265.21 173.61L265.52 173.71L265.84 173.98L266.16 173.08L266.47 174.46L266.79 173.03L267.10 172.27L267.42 172.42L267.73 172.16L268.05 172.53L268.36 173.19L268.68 172.13L268.99 171.56L269.31 171.40L269.62 171.31L269.94 170.60L270.26 169.38L270.57 168.46L270.89 167.18L271.20 165.77L271.52 163.40L271.83 160.46L272.15 156.45L272.46 150.86L272.78 143.45L273.09 133.63L273.41 121.28L273.73 107.84L274.04 96.31L274.36 91.48L274.36 91.61L274.67 96.35L274.99 107.93L275.30 121.29L275.62 133.58L275.93 143.54L276.25 151.00L276.56 156.42L276.88 160.50L277.19 163.51L277.51 165.50L277.83 167.18L278.14 168.85L278.46 169.12L278.77 169.78L279.09 170.23L279.40 170.96L279.72 172.23L280.03 171.71L280.35 171.29L280.66 171.27L280.98 172.22L281.29 173.10L281.61 173.10L281.93 173.62L282.24 173.08L282.56 173.32L282.87 173.98L283.19 174.61L283.50 174.78L283.82 175.01L284.13 175.40L284.45 174.76L284.76 174.74L285.08 174.24L285.39 173.81L285.71 173.86L286.03 174.30L286.34 174.94L286.66 174.55L286.97 174.75L287.29 174.99L287.60 174.76L287.92 174.01L288.23 174.14L288.55 173.75L288.86 175.38L289.18 175.18L289.50 175.31L289.81 174.52L290.13 174.76L290.44 174.71L290.76 174.66L291.07 173.36L291.39 174.67L291.70 174.59L292.02 174.67L292.33 175.26L292.65 174.96L292.96 174.99L293.28 174.88L293.60 175.35L293.91 175.34L294.23 174.95L294.54 174.31L294.86 174.21L295.17 175.03L295.49 175.85L295.80 175.70L296.12 176.37L296.43 175.77L296.75 175.33L297.06 175.66L297.38 174.53L297.70 174.71L298.01 175.12L298.33 174.63L298.64 174.84L298.96 176.10L299.27 175.25L299.59 175.39L299.90 175.51L300.22 175.01L300.53 174.91L300.85 175.64L301.16 174.95L301.48 177.15L301.80 175.71L302.11 175.35L302.43 175.71L302.74 175.20L303.06 174.36L303.37 174.72L303.69 174.17L304.00 174.42L304.32 174.11L304.63 174.56L304.95 175.26L305.27 175.30L305.58 175.91L305.90 176.70L306.21 176.80L306.53 175.96L306.84 175.55L307.16 175.81L307.47 175.16L307.79 175.34L308.10 175.20L308.42 175.41L308.73 175.55L309.05 175.41L309.37 175.18L309.68 174.74L310.00 174.53L310.31 175.51L310.63 176.07L310.94 176.52L311.26 175.39L311.57 174.23L311.89 174.00L312.20 173.97L312.52 173.06L312.83 173.76L313.15 173.06L313.47 172.73L313.78 171.07L314.10 170.43L314.41 170.36L314.73 169.00L315.04 168.36L315.36 167.49L315.67 166.89L315.99 166.79L316.15 167.24L316.30 167.66L316.62 168.12L316.93 168.40L317.25 168.62L317.57 169.53L317.88 170.05L318.20 170.97L318.51 170.87L318.83 171.94L319.14 171.79L319.46 172.61L319.77 173.00L320.09 172.85L320.40 173.68L320.72 174.58L321.04 174.77L321.35 175.24L321.67 174.84L321.98 175.10L322.30 175.08L322.61 175.62L322.93 176.07L323.24 175.73L323.56 175.67L323.87 175.32L324.19 176.12L324.50 175.73L324.82 174.91L325.14 174.89L325.45 175.34L325.77 174.96L326.08 175.91L326.40 175.39L326.71 175.11L327.03 175.53L327.34 176.37L327.66 175.21L327.97 175.89L328.29 175.57L328.60 175.85L328.92 175.27L329.24 175.03L329.55 175.59L329.87 175.55L330.18 176.02L330.50 175.66L330.81 176.60L331.13 175.42L331.44 175.35L331.76 174.57L332.07 174.67L332.39 174.38L332.70 174.16L333.02 174.50L333.34 173.91L333.65 173.70L333.97 174.26L334.28 173.41L334.60 172.70L334.91 171.78L335.23 169.59L335.54 165.66L335.86 159.17L336.17 143.00L336.49 111.84L336.81 71.98L337.04 57.59L337.12 59.22L337.44 91.52L337.75 129.37L338.07 152.75L338.38 163.64L338.70 168.21L339.01 169.73L339.33 170.94L339.64 171.45L339.96 172.61L340.27 174.21L340.59 174.10L340.91 174.90L341.22 174.67L341.54 174.44L341.85 174.16L342.17 173.87L342.48 174.09L342.80 174.49L343.11 174.70L343.43 173.76L343.74 171.84L344.06 170.25L344.37 168.95L344.53 168.25L344.69 168.26L345.01 170.15L345.32 171.83L345.64 172.92L345.95 174.14L346.27 173.82L346.58 173.56L346.90 174.06L347.21 173.61L347.53 174.93L347.84 174.51L348.16 175.52L348.47 176.81L348.79 177.37L349.11 175.83L349.42 175.82L349.74 174.30L350.05 175.14L350.37 176.20L350.68 177.29L351.00 175.99L351.31 176.05L351.63 175.43L351.94 175.08L352.26 175.83L352.58 176.81L352.89 175.89L353.21 175.94L353.52 175.88L353.84 174.66L354.15 175.01L354.47 174.61L354.78 175.04L355.10 175.30L355.41 174.90L355.73 175.02L356.04 175.11L356.36 175.24L356.68 174.98L356.99 175.46L357.31 175.37L357.62 174.39L357.94 174.99L358.25 174.02L358.57 174.84L358.88 174.93L359.20 175.05L359.51 175.56L359.83 175.34L360.14 174.89L360.46 174.60L360.78 174.15L361.09 174.28L361.41 174.31L361.72 174.92L362.04 174.51L362.35 175.50L362.67 175.98L362.98 176.66L363.30 176.26L363.61 175.57L363.93 174.88L364.24 174.69L364.56 175.82L364.88 176.77L365.19 177.01L365.51 175.29L365.82 176.21L366.14 176.04L366.45 175.39L366.77 175.59L367.08 175.25L367.40 174.73L367.71 174.67L368.03 173.94L368.35 174.17L368.66 174.16L368.98 175.24L369.29 174.41L369.61 175.32L369.92 175.96L370.24 175.79L370.55 176.37L370.87 175.58L371.18 175.91L371.50 175.97L371.81 176.60L372.13 175.99L372.45 176.35L372.76 175.49L373.08 175.29L373.39 175.69L373.71 175.41L374.02 175.92L374.34 175.76L374.65 176.18L374.97 176.09L375.28 174.49L375.60 175.66L375.91 175.04L376.23 175.04L376.55 174.52L376.86 174.61L377.18 173.55L377.49 173.57L377.81 173.39L378.12 173.65L378.44 174.00L378.75 173.97L379.07 173.82L379.38 173.05L379.70 172.17L380.01 172.51L380.33 172.02L380.65 171.65L380.96 171.49L381.28 170.65L381.59 170.26L381.91 169.25L382.22 169.20L382.54 168.28L382.85 167.45L383.17 167.46L383.48 167.09L383.80 167.24L383.96 167.55L384.12 167.26L384.43 167.31L384.75 167.46L385.06 167.79L385.38 168.11L385.69 169.04L386.01 169.28L386.32 170.34L386.64 170.89L386.95 171.35L387.27 171.09L387.58 171.60L387.90 172.96L388.22 173.04L388.53 172.34L388.85 172.95L389.16 173.56L389.48 173.25L389.79 173.72L390.11 172.03L390.42 171.28L390.74 169.42L391.05 168.74L391.37 164.72L391.68 156.53L392.00 139.97L392.32 117.91L392.63 105.14L392.63 105.15L392.95 117.99L393.26 140.30L393.58 156.89L393.89 165.74L394.21 170.45L394.52 172.24L394.84 172.67L395.15 172.94L395.47 173.26L395.78 172.94L396.10 173.53L396.42 174.86L396.73 174.53L397.05 175.70L397.36 175.56L397.68 174.14L397.99 174.15L398.31 173.83L398.62 174.63L398.94 174.61L399.25 175.15L399.57 175.64L399.89 176.04L400.20 175.80L400.52 174.57L400.83 176.02L401.15 175.19L401.46 174.80L401.78 174.97L402.09 175.44L402.41 174.91L402.72 175.22L403.04 175.37L403.35 175.99L403.67 175.60L403.99 175.76L404.30 175.34L404.62 174.75L404.93 175.69L405.25 175.48L405.56 175.27L405.88 175.92L406.19 175.83L406.51 175.75L406.82 176.27L407.14 177.60L407.45 177.06L407.77 176.55L408.09 175.62L408.40 175.69L408.72 174.96L409.03 174.49L409.35 174.16L409.66 175.29L409.98 175.75L410.29 175.09L410.61 175.20L410.92 175.52L411.24 175.41L411.55 174.52L411.87 175.05L412.19 175.71L412.50 175.05L412.82 175.01L413.13 174.89L413.45 174.74L413.76 175.47L414.08 175.72L414.39 174.50L414.71 174.61L415.02 174.48L415.34 174.05L415.66 174.24L415.97 173.50L416.29 173.43L416.60 171.78L416.92 171.89L417.23 170.92L417.55 170.62L417.86 170.27L418.18 170.16L418.49 169.79L418.81 169.33L419.12 168.43L419.44 167.74L419.76 166.99L420.07 166.36L420.39 166.38L420.62 165.95L420.70 165.95L421.02 166.03L421.33 166.61L421.65 166.62L421.96 167.39L422.28 168.87L422.59 169.95L422.91 170.54L423.22 170.36L423.54 171.39L423.86 172.02L424.17 172.05L424.49 171.62L424.80 172.83L425.12 173.01L425.43 173.86L425.75 175.38L426.06 174.92L426.38 174.12L426.69 174.35L427.01 175.39L427.32 175.15L427.64 175.42L427.96 174.65L428.27 174.59L428.59 175.35L428.90 175.37L429.22 175.56L429.53 175.61L429.85 175.55L430.16 175.49L430.48 175.45L430.79 175.35L431.11 175.50L431.43 174.81L431.74 175.73L432.06 175.92L432.37 175.28L432.69 175.27L433.00 175.81L433.32 175.81L433.63 175.87L433.95 175.97L434.26 175.47L434.58 175.02L434.89 175.58L435.21 176.12L435.53 175.44L435.84 176.19L436.16 176.21L436.47 175.81L436.79 175.55L437.10 175.88L437.42 175.36L437.73 176.37L438.05 176.14L438.36 177.07L438.68 176.42L438.99 175.64L439.31 175.56L439.63 176.09L439.94 175.60L440.26 174.52L440.57 173.92L440.89 173.80L441.20 174.72L441.52 175.21L441.83 175.00L442.15 176.06L442.46 174.54L442.78 175.02L443.09 174.98L443.41 174.72L443.73 175.17L444.04 173.86L444.36 174.06L444.67 174.04L444.99 173.70L445.30 173.16L445.62 172.92L445.93 173.53L446.25 172.67L446.56 172.68L446.88 173.29L447.04 173.35L447.20 172.98L447.51 172.81L447.83 173.32L448.14 173.84L448.46 173.62L448.77 173.78L449.09 174.33L449.40 173.94L449.72 173.56L450.03 173.56L450.35 173.36L450.66 174.29L450.98 172.91L451.30 174.23L451.61 173.88L451.93 174.40L452.24 174.66L452.56 176.15L452.87 176.14L453.19 177.22L453.50 175.41L453.82 175.21L454.13 175.72L454.45 175.47L454.76 174.85L455.08 174.60L455.40 176.64L455.71 176.77L456.03 176.71L456.34 176.28L456.66 176.84L456.97 176.21L457.29 176.38L457.60 176.18L457.92 176.78L458.23 175.97L458.55 175.99L458.86 176.72L459.18 176.41L459.50 176.39L459.81 176.15L460.13 176.54L460.44 175.69L460.76 176.24L461.07 176.99L461.39 176.32L461.70 175.43L462.02 174.89L462.33 175.13L462.65 175.05L462.97 175.41L463.28 176.30L463.60 175.86L463.91 176.45L464.23 175.12L464.54 176.88L464.86 176.25L465.17 177.05L465.49 176.36L465.80 175.22L466.12 174.50L466.43 174.37L466.75 174.43L467.07 175.98L467.38 175.39L467.70 175.94L468.01 176.67L468.33 175.86L468.64 175.37L468.96 174.83L469.27 175.38L469.59 175.61L469.90 175.16L470.22 176.06L470.53 175.51L470.85 176.15L471.17 175.81L471.48 176.40L471.80 176.29L472.11 175.65L472.43 175.34L472.74 175.32L473.06 175.82L473.37 175.76L473.69 175.44L474.00 175.77L474.32 176.58L474.63 175.42L474.95 176.42L475.27 175.83L475.58 176.86L475.90 175.77L476.21 175.65L476.53 174.93L476.84 175.38L477.16 175.69L477.47 176.03L477.79 174.75L478.10 175.08L478.42 176.92L478.74 175.77L479.05 175.46L479.37 175.77L479.68 173.87L480.00 175.07L480.31 173.87L480.63 173.00L480.94 173.79L481.26 172.80L481.57 172.69L481.89 173.28L482.20 173.17L482.52 172.27L482.84 171.79L483.15 170.74L483.47 170.38L483.78 170.73L484.10 170.43L484.41 169.78L484.73 169.37L485.04 168.79L485.36 168.46L485.67 167.94L485.99 168.23L486.30 167.35L486.62 167.25L486.86 167.02L486.94 166.71L487.25 167.62L487.57 167.53L487.88 167.91L488.20 168.16L488.51 168.01L488.83 168.32L489.14 168.81L489.46 170.00L489.77 170.68L490.09 170.39L490.40 171.23L490.72 171.01L491.04 170.99L491.35 171.88L491.67 172.27L491.98 173.43L492.30 173.03L492.61 174.27L492.93 173.87L493.24 174.07L493.56 173.61L493.87 173.68L494.19 173.84L494.51 173.08L494.82 172.74L495.14 173.52L495.45 173.23L495.77 173.29L496.08 173.15L496.40 172.22L496.71 171.41L497.03 169.35L497.34 167.24L497.66 164.77L497.97 161.88L498.29 159.04L498.61 156.93L498.92 156.02L498.92 156.03L499.24 156.82L499.55 158.76L499.87 161.15L500.18 163.70L500.50 166.02L500.81 167.74L501.13 168.35L501.44 169.08L501.76 169.06L502.07 168.93L502.39 168.89L502.71 168.82L503.02 169.12L503.02 168.97L503.34 169.16L503.65 169.85L503.97 170.66L504.28 171.77L504.60 172.39L504.91 173.34L505.23 174.03L505.54 173.44L505.86 173.86L506.17 174.49L506.49 174.52L506.81 174.25L507.12 175.46L507.44 175.35L507.75 175.27L508.07 176.31L508.38 174.72L508.70 175.03L509.01 175.06L509.33 175.72L509.64 176.23L509.96 175.63L510.28 175.94L510.59 175.93L510.91 175.24L511.22 175.89L511.54 175.15L511.85 175.10L512.17 175.09L512.48 175.39L512.80 175.60L513.11 175.34L513.43 176.10L513.74 174.85L514.06 175.46L514.38 176.74L514.69 176.24L515.01 177.23L515.32 177.17L515.64 177.11L515.95 176.43L516.27 176.21L516.58 176.07L516.90 176.25L517.21 175.96L517.53 175.68L517.84 174.90L518.16 173.89L518.48 174.17L518.79 174.77L519.11 176.11L519.42 174.78L519.74 175.88L520.05 175.41L520.37 175.84L520.68 175.35L521.00 174.69L521.31 175.46L521.63 174.87L521.94 176.44L522.26 175.99L522.58 174.41L522.89 175.08L523.21 174.96L523.52 175.40L523.84 175.01L524.15 176.00L524.47 176.07L524.78 175.89L525.10 175.13L525.41 175.60L525.73 175.49L526.05 175.61L526.36 176.37L526.68 176.15L526.99 176.53L527.31 176.67L527.62 176.62L527.94 177.25L528.25 175.61L528.57 174.61L528.88 175.23L529.20 174.37L529.51 175.02L529.83 175.67L530.15 175.57L530.46 176.12L530.78 175.70L531.09 176.03L531.41 175.52L531.72 176.33L532.04 175.57L532.35 174.91L532.67 174.59L532.98 176.35L533.30 176.24L533.61 175.91L533.93 175.83L534.25 175.87L534.56 175.57L534.88 176.62L535.19 175.86L535.51 175.35L535.82 175.93L536.14 175.29L536.45 176.64L536.77 176.59L537.08 176.93L537.40 177.40L537.71 176.43L538.03 177.31L538.35 177.46L538.66 177.28L538.98 176.61L539.29 177.03L539.61 176.73L539.92 176.96L540.24 176.43L540.55 176.43L540.87 176.40L541.18 176.52L541.50 176.40L541.82 176.65L542.13 176.88L542.45 176.72L542.76 176.96L543.08 176.41L543.39 175.75L543.71 174.50L544.02 175.76L544.34 176.51L544.65 175.89L544.97 175.79L545.28 175.68L545.60 175.46L545.92 176.15L546.23 176.22L546.55 177.17L546.86 176.10L547.18 176.23L547.49 175.70L547.81 175.59L548.12 176.59L548.44 176.24L548.75 176.42L549.07 175.98L549.38 176.40L549.70 176.67L550.02 176.64L550.33 176.23L550.65 177.04L550.96 176.63L551.28 176.05L551.59 175.98L551.91 175.82L552.22 175.75L552.54 175.34L552.85 175.90L553.17 176.20L553.48 175.61L553.80 175.27L554.12 176.37L554.43 175.94L554.75 175.67L555.06 175.73L555.38 174.72L555.69 175.23L556.01 175.71L556.32 176.47L556.64 175.03L556.95 175.70L557.27 177.25L557.59 177.08L557.90 177.35L558.22 177.15L558.53 176.02L558.85 175.45L559.16 175.95L559.48 176.11L559.79 175.36L560.11 176.46L560.42 174.94L560.74 175.35L561.05 177.24L561.37 175.83L561.69 176.55L562.00 175.38L562.32 175.25L562.63 174.64L562.95 174.89L563.26 175.48L563.58 176.07L563.89 175.83L564.21 176.28L564.52 175.51L564.84 176.52L565.15 176.25L565.47 176.74L565.79 175.80L566.10 175.74L566.42 176.30L566.73 175.86L567.05 175.52L567.36 175.06L567.68 175.22L567.99 175.39L568.31 175.40L568.62 175.14L568.94 175.54L569.25 176.19L569.57 175.71L569.89 176.82L570.20 176.59L570.52 176.26L570.83 174.98L571.15 175.07L571.46 175.27L571.78 175.41L572.09 175.13L572.41 175.81L572.72 175.74L573.04 175.59L573.36 174.47L573.67 175.62L573.99 174.54L574.30 175.01L574.62 174.56L574.93 174.93L575.25 175.17L575.56 174.91L575.88 175.13L576.19 174.67L576.51 175.57L576.82 173.94L577.14 174.25L577.46 174.58L577.77 173.76L578.09 173.13L578.40 172.01L578.72 172.35L579.03 171.02L579.35 171.21L579.66 170.00L579.98 167.94L580.29 164.03L580.61 156.76L580.92 142.87L581.24 118.90L581.56 87.06L581.87 69.15L581.87 69.07L582.19 87.23L582.50 118.84L582.82 142.85L583.13 156.61L583.45 163.72L583.76 167.27L584.08 170.00L584.39 171.05L584.71 171.02L585.02 172.40L585.34 172.15L585.66 172.92L585.97 175.18L586.29 175.09L586.60 174.36L586.92 174.39L587.23 174.50L587.55 174.74L587.86 175.84L588.18 176.24L588.49 175.27L588.81 175.43L589.13 175.48L589.44 174.97L589.76 174.89L590.07 175.41L590.39 175.31L590.70 174.59L591.02 175.05L591.33 175.37L591.65 175.76L591.96 175.75L592.28 176.27L592.59 174.87L592.91 174.43L593.23 175.13L593.54 174.17L593.86 174.83L594.17 175.55L594.49 174.67L594.80 174.87L595.12 175.45L595.43 174.90L595.75 174.44L596.06 175.23L596.38 175.52L596.69 176.66L597.01 176.27L597.33 177.32L597.64 176.28L597.96 175.76L598.27 175.75L598.59 175.66L598.90 175.30L599.22 175.83L599.53 177.16L599.85 175.36L600.16 175.24L600.48 175.47L600.79 175.89L601.11 174.97L601.43 176.29L601.74 175.89L602.06 177.21L602.37 177.12L602.69 176.60L603.00 176.88L603.32 176.63L603.63 175.29L603.95 175.86L604.26 174.00L604.58 174.41L604.90 173.42L605.21 172.57L605.53 173.42L605.84 174.41L606.16 175.29L606.47 176.26L606.79 176.00L607.10 176.33L607.42 175.55L607.73 175.72L608.05 175.52L608.36 174.45L608.68 176.09L609.00 176.07L609.31 176.78L609.63 175.54L609.94 176.16L610.26 175.80L610.57 174.85L610.89 174.72L611.20 174.91L611.52 175.84L611.83 176.06L612.15 176.61L612.46 175.95L612.78 175.64L613.10 176.39L613.41 176.28L613.73 176.34L614.04 176.59L614.36 175.75L614.67 176.35L614.99 175.31L615.30 175.60L615.62 175.61L615.93 175.50L616.25 175.91L616.56 175.45L616.88 175.56L617.20 175.70L617.51 174.87L617.83 175.43L618.14 177.31L618.46 176.74L618.77 176.55L619.09 176.75L619.40 178.12L619.72 175.47L620.03 175.79L620.35 175.45L620.67 174.58L620.98 174.73L621.30 173.68L621.61 174.55L621.93 174.98L622.24 175.38L622.56 175.62L622.87 175.76L623.19 176.43L623.50 175.96L623.82 175.97L624.13 176.27L624.45 176.26L624.77 175.72L625.08 175.55L625.40 175.37L625.71 175.67L626.03 174.80L626.34 174.92L626.66 176.39L626.97 175.60L627.29 175.48L627.60 175.77L627.92 177.15L628.23 175.63L628.55 175.99L628.87 175.14L629.18 176.01L629.50 175.57L629.81 176.80L630.13 175.28L630.44 175.70L630.76 175.96L631.07 176.01L631.39 175.11L631.70 176.47L632.02 176.34L632.33 176.09L632.65 175.78L632.97 175.99L633.28 175.87L633.60 176.56L633.91 176.35L634.23 176.62L634.54 176.46L634.86 175.14L635.17 175.35L635.49 175.81L635.80 174.64L636.12 175.54L636.44 175.34L636.75 175.19L637.07 175.56L637.38 175.73L637.70 175.59L638.01 175.29L638.33 175.16L638.64 173.71L638.96 174.03L639.27 173.09L639.59 171.87L639.83 171.53L639.90 171.22L640.22 172.12L640.54 172.22L640.85 172.68L641.17 173.84L641.48 174.06L641.80 174.56L642.11 175.42L642.43 174.89L642.74 175.16L643.06 176.25L643.37 174.89L643.69 175.94L644.00 176.57L644.32 176.37L644.64 176.35L644.95 174.70L645.27 175.73L645.58 175.88L645.90 176.18L646.21 175.86L646.53 175.34L646.84 175.94L647.16 176.02L647.47 175.08L647.79 175.79L648.10 174.94L648.42 174.47L648.74 173.49L649.05 175.54L649.37 175.74L649.68 175.64L650.00 175.71L650.31 175.40L650.63 176.33L650.94 175.49L651.26 175.20L651.57 174.46L651.89 174.43L652.21 175.06L652.52 176.64L652.84 175.79L653.15 176.79L653.47 177.18L653.78 175.89L654.10 176.47L654.41 175.88L654.73 176.14L655.04 175.65L655.36 175.97L655.67 176.62L655.99 177.70L656.31 177.65L656.62 177.27L656.94 176.19L657.25 176.65L657.57 175.69L657.88 175.48L658.20 175.13L658.51 175.66L658.83 175.69L659.14 175.72L659.46 175.57L659.77 176.18L660.09 175.13L660.41 175.55L660.72 176.16L661.04 175.45L661.35 175.40L661.67 174.91L661.98 174.89L662.30 175.23L662.61 174.70L662.93 176.17L663.24 175.98L663.56 175.89L663.87 175.37L664.19 176.23L664.51 176.06L664.82 175.21L665.14 175.39L665.45 174.67L665.77 176.32L666.08 175.71L666.40 175.93L666.71 175.51L667.03 175.75L667.34 175.87L667.66 175.21L667.98 175.10L668.29 174.88L668.61 175.94L668.92 175.09L669.24 174.99L669.55 175.72L669.87 176.00L670.18 176.31L670.50 176.45L670.81 175.64L671.13 175.66L671.44 175.52L671.76 175.10L672.08 177.03L672.39 177.30L672.71 175.43L673.02 175.83L673.34 176.20L673.65 176.17L673.97 176.19L674.28 174.34L674.60 175.16L674.91 175.91L675.23 176.88L675.54 175.59L675.86 175.73L676.18 175.19L676.49 175.74L676.81 175.25L677.12 176.36L677.44 175.95L677.75 175.38L678.07 175.81L678.38 175.30L678.70 176.32L679.01 175.61L679.33 176.27L679.64 175.85L679.96 174.33L680.28 174.96L680.59 175.04L680.91 174.54L681.22 175.79L681.54 176.15L681.85 175.93L682.17 176.17L682.48 176.33L682.80 175.64L683.11 175.35L683.43 176.40L683.75 175.16L684.06 175.66L684.38 175.91L684.69 175.64L685.01 174.65L685.32 175.55L685.64 175.84L685.95 175.38L686.27 175.33L686.58 174.87L686.90 174.75L687.21 174.87L687.53 175.28L687.85 175.61L688.16 174.40L688.48 176.49L688.79 175.08L689.11 175.54L689.42 174.28L689.74 174.82L690.05 174.51L690.37 175.61L690.68 175.67L691.00 175.41L691.31 175.48L691.63 175.72L691.95 175.10L692.26 175.23L692.58 175.14L692.89 175.84L693.21 175.46L693.52 175.31L693.84 176.49L694.15 177.01L694.47 177.25L694.78 176.21L695.10 176.49L695.41 177.31L695.73 176.26L696.05 176.29L696.36 176.40L696.68 175.64L696.99 175.58L697.31 175.24L697.62 175.00L697.94 175.64L698.25 174.85L698.57 174.34L698.88 174.44L699.20 174.77L699.52 175.23L699.83 175.77L700.15 175.75L700.46 173.97L700.78 174.01L701.09 173.65L701.41 174.93L701.72 175.41L702.04 175.19L702.35 175.38L702.67 175.66L702.98 175.63L703.30 176.80"/>
</g>
<path fill="none" stroke="#000" stroke-width="2.5" d="M151.35 474V465.5M309.05 474V465.5M466.75 474V465.5M624.45 474V465.5M230.20 474V469.5M387.90 474V469.5M545.60 474V469.5M72.4 55.8H81.5M72.4 148.9H81.5M72.4 241.9H81.5M72.4 335.0H81.5M72.4 428.0H81.5M72.4 102.4H76.4M72.4 195.4H76.4M72.4 288.4H76.4M72.4 381.5H76.4"/>
<g fill="#000">
<circle cx="102" cy="30.2" r="5.0"/><circle cx="335.8" cy="47.2" r="5.0"/><circle cx="391.9" cy="93.9" r="5.0"/><circle cx="581.2" cy="59.7" r="5.0"/><circle cx="329.1" cy="186.6" r="5.0"/><circle cx="391.6" cy="226.7" r="5.0"/><circle cx="581.1" cy="183.1" r="5.0"/><circle cx="337.3" cy="359.9" r="5.0"/><circle cx="386.6" cy="306.7" r="5.0"/><circle cx="583.1" cy="320.4" r="5.0"/><path d="M102 47.7L107.0 52.7L102 57.7L97.0 52.7Z"/><path d="M345.3 154.3L350.3 159.3L345.3 164.3L340.3 159.3Z"/><path d="M639.3 155.8L644.3 160.8L639.3 165.8L634.3 160.8Z"/><path d="M344.1 247.0L349.1 252L344.1 257.0L339.1 252Z"/><path d="M638.3 264.7L643.3 269.7L638.3 274.7L633.3 269.7Z"/><path d="M346.1 400.5L351.1 405.5L346.1 410.5L341.1 405.5Z"/><path d="M638.3 402.6L643.3 407.6L638.3 412.6L633.3 407.6Z"/><path d="M96.75 70.2L107.25 70.2L102 80.2Z"/><path d="M177.85 146.8L188.35 146.8L183.1 156.8Z"/><path d="M249.75 136.0L260.25 136.0L255 146.0Z"/><rect x="97.2" y="92.85" width="9.6" height="9.5"/><rect x="268.5" y="75.45" width="9.6" height="9.5"/><rect x="493.0" y="141.25" width="9.6" height="9.5"/>
</g>
<text x="119" y="37" font-size="18" fill="#000" textLength="88.5" lengthAdjust="spacingAndGlyphs">Austenite</text><text x="118.5" y="82.4" font-size="18" fill="#000" textLength="85" lengthAdjust="spacingAndGlyphs">Hematite</text><text x="118.5" y="104" font-size="18" fill="#000" textLength="95" lengthAdjust="spacingAndGlyphs">Magnetite</text><text x="151.35" y="497.4" font-size="17.6" fill="#000" textLength="19.6" lengthAdjust="spacingAndGlyphs" text-anchor="middle">20</text><text x="309.05" y="497.4" font-size="17.6" fill="#000" textLength="19.6" lengthAdjust="spacingAndGlyphs" text-anchor="middle">40</text><text x="466.75" y="497.4" font-size="17.6" fill="#000" textLength="19.6" lengthAdjust="spacingAndGlyphs" text-anchor="middle">60</text><text x="624.45" y="497.4" font-size="17.6" fill="#000" textLength="19.6" lengthAdjust="spacingAndGlyphs" text-anchor="middle">80</text><text x="0" y="0" font-size="38.5" fill="#000" textLength="260.8" lengthAdjust="spacingAndGlyphs" transform="translate(38.8 372.1) rotate(-90)">Intensity / a.u.</text><text x="661.8000000000001" y="161.4" font-size="24" fill="#1b6bdd" textLength="6.6" lengthAdjust="spacingAndGlyphs">(</text><text x="669.3000000000001" y="161.0" font-size="22" fill="#1b6bdd">c</text><text x="681.8" y="161.4" font-size="24" fill="#1b6bdd" textLength="6.6" lengthAdjust="spacingAndGlyphs">)</text><text x="658.4" y="278.3" font-size="24" fill="#ee3e40" textLength="6.6" lengthAdjust="spacingAndGlyphs">(</text><text x="665.5" y="279.1" font-size="25.5" fill="#ee3e40" textLength="13.2" lengthAdjust="spacingAndGlyphs">b</text><text x="681.1999999999999" y="278.3" font-size="24" fill="#ee3e40" textLength="6.6" lengthAdjust="spacingAndGlyphs">)</text><text x="658.0" y="414.3" font-size="24" fill="#5a5a5a" textLength="6.6" lengthAdjust="spacingAndGlyphs">(</text><text x="665.5" y="413.9" font-size="22" fill="#5a5a5a">a</text><text x="680.4" y="414.3" font-size="24" fill="#5a5a5a" textLength="6.6" lengthAdjust="spacingAndGlyphs">)</text><text x="241.2" y="547.6" font-size="40.5" fill="#000" textLength="22.0" lengthAdjust="spacingAndGlyphs">2</text><text x="273.9" y="547.8" font-size="39.3" fill="#000" textLength="261.2" lengthAdjust="spacingAndGlyphs">theta (degree)</text><text x="118.0" y="59.9" font-size="18" fill="#000" textLength="48.2" lengthAdjust="spacingAndGlyphs">Delta</text><text x="172.0" y="59.9" font-size="18" fill="#000" textLength="57.6" lengthAdjust="spacingAndGlyphs">ferrite</text>
</svg>
</body></html>
